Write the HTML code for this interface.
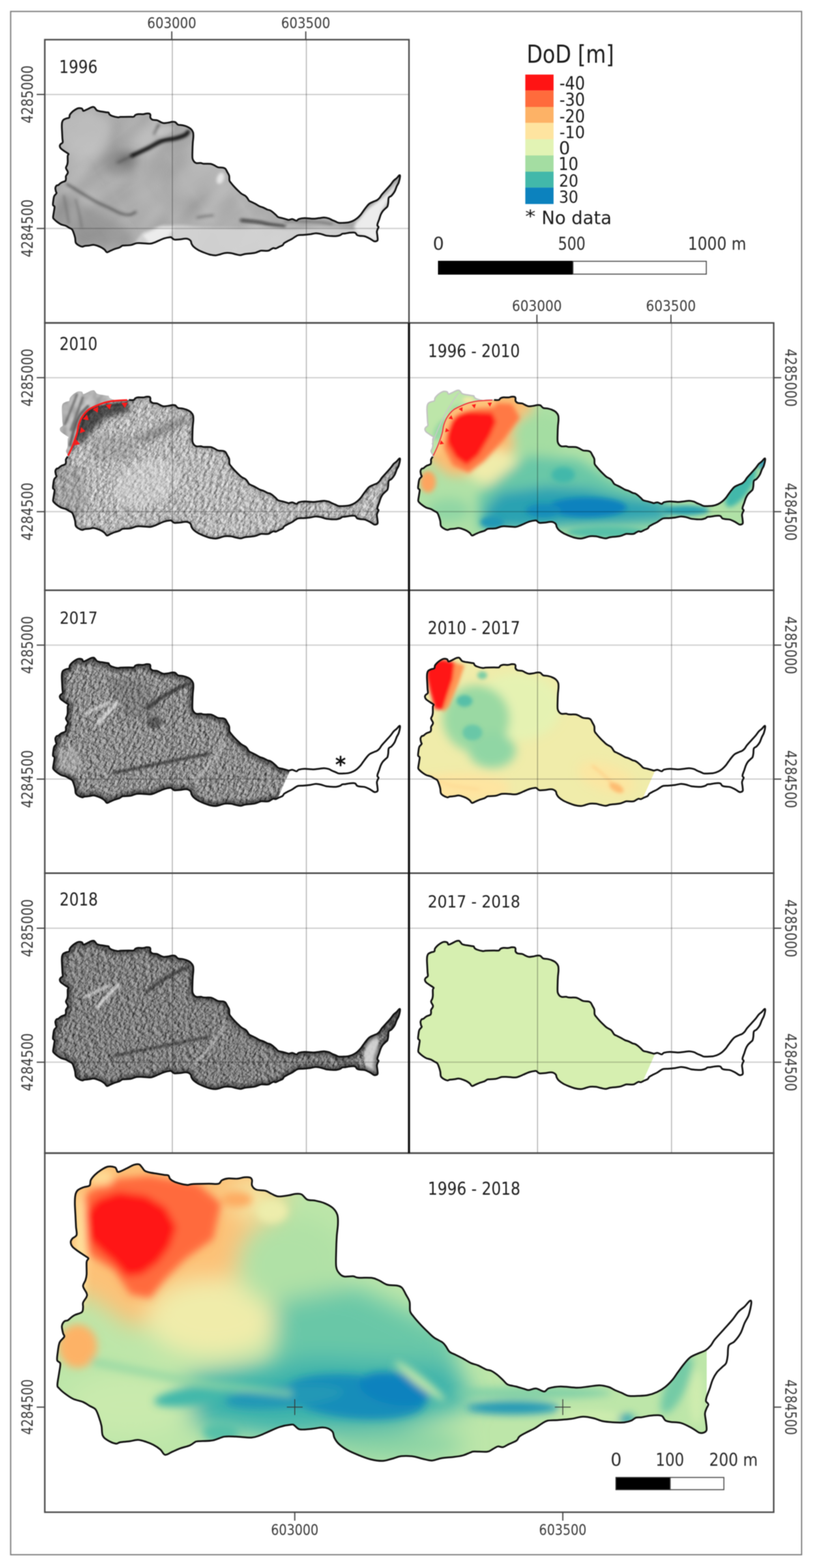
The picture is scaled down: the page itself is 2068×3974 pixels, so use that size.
<!DOCTYPE html><html><head><meta charset="utf-8"><style>html,body{margin:0;padding:0;background:#fff;width:2068px;height:3974px;overflow:hidden}svg{display:block;filter:blur(1px)}</style></head><body><svg width="2068" height="3974" viewBox="0 0 2068 3974"><defs><path id="cp" d="M191.1,3079.0 C190.6,3069.1 189.7,3057.7 189.7,3049.3 C189.7,3040.9 189.9,3033.9 191.1,3028.4 C192.3,3022.9 193.6,3019.7 197.1,3016.5 C200.6,3013.3 207.0,3011.0 212.0,3009.0 C217.0,3007.0 224.0,3007.6 227.0,3004.6 C230.0,3001.6 227.8,2995.5 230.0,2991.0 C232.2,2986.5 236.2,2981.9 240.4,2977.7 C244.6,2973.5 249.8,2969.3 255.3,2965.8 C260.8,2962.3 267.2,2958.1 273.2,2956.8 C279.1,2955.6 287.3,2957.1 291.0,2958.3 C294.7,2959.6 294.0,2962.3 295.5,2964.3 C297.0,2966.3 295.8,2970.8 300.0,2970.3 C304.2,2969.8 314.4,2964.3 320.9,2961.3 C327.4,2958.3 333.6,2954.1 338.8,2952.4 C344.0,2950.7 348.7,2949.9 352.2,2950.9 C355.7,2951.9 357.2,2955.6 359.7,2958.3 C362.2,2961.0 363.6,2965.1 367.1,2967.3 C370.6,2969.6 375.4,2970.6 380.6,2971.8 C385.8,2973.0 392.5,2973.7 398.5,2974.7 C404.5,2975.7 411.7,2976.9 416.4,2977.7 C421.1,2978.4 424.3,2977.4 426.8,2979.2 C429.3,2980.9 428.6,2985.5 431.3,2988.2 C434.0,2990.9 436.2,2993.1 443.2,2995.6 C450.1,2998.1 465.5,3002.1 473.0,3003.0 C480.5,3003.9 478.5,3001.5 488.0,3001.0 C497.5,3000.5 518.8,3000.2 529.8,3000.1 C540.8,2999.9 548.2,3001.6 553.7,3000.1 C559.2,2998.6 558.6,2993.3 562.6,2991.1 C566.6,2988.9 571.1,2987.3 577.6,2986.7 C584.1,2986.1 594.5,2987.8 601.4,2987.3 C608.3,2986.8 613.8,2984.1 619.3,2983.7 C624.8,2983.2 631.0,2983.4 634.2,2984.6 C637.4,2985.8 638.0,2987.8 638.7,2991.1 C639.5,2994.4 637.0,3000.6 638.7,3004.6 C640.4,3008.6 643.4,3012.8 649.1,3015.0 C654.8,3017.2 666.5,3016.2 673.0,3018.0 C679.5,3019.8 682.4,3023.1 687.9,3025.5 C693.4,3027.9 698.3,3031.7 705.8,3032.3 C713.3,3032.9 725.7,3030.4 732.7,3029.3 C739.7,3028.2 742.4,3026.4 747.6,3026.0 C752.8,3025.6 758.8,3024.6 764.0,3027.0 C769.2,3029.4 773.2,3037.8 778.9,3040.4 C784.6,3043.0 791.1,3041.3 798.3,3042.8 C805.5,3044.3 814.8,3046.2 822.2,3049.3 C829.7,3052.4 837.5,3056.2 843.0,3061.2 C848.5,3066.2 852.8,3072.1 855.0,3079.1 C857.2,3086.1 856.6,3094.1 856.4,3103.0 C856.1,3111.9 854.2,3121.9 853.5,3132.8 C852.8,3143.7 852.2,3155.7 852.0,3168.6 C851.8,3181.5 850.6,3200.6 852.0,3210.4 C853.4,3220.2 857.0,3223.6 860.4,3227.7 C863.8,3231.8 866.7,3234.0 872.4,3235.2 C878.1,3236.3 888.7,3234.1 894.7,3234.6 C900.7,3235.1 900.2,3237.5 908.2,3238.2 C916.2,3238.9 933.8,3237.7 942.5,3238.8 C951.2,3239.9 953.9,3242.1 960.4,3245.0 C966.9,3247.9 973.8,3253.8 981.2,3256.0 C988.6,3258.2 998.8,3256.8 1005.0,3258.0 C1011.2,3259.2 1014.5,3259.6 1018.5,3263.5 C1022.5,3267.4 1025.8,3275.4 1029.0,3281.4 C1032.2,3287.4 1036.3,3292.3 1038.0,3299.3 C1039.7,3306.3 1037.9,3317.2 1039.4,3323.2 C1040.9,3329.2 1042.7,3329.6 1046.9,3335.1 C1051.1,3340.6 1058.3,3349.0 1064.8,3356.0 C1071.2,3363.0 1079.6,3371.2 1085.6,3376.9 C1091.6,3382.6 1094.6,3386.1 1100.6,3390.3 C1106.6,3394.5 1116.4,3398.5 1121.4,3402.2 C1126.4,3405.9 1127.4,3408.7 1130.4,3412.7 C1133.4,3416.7 1135.3,3422.5 1139.3,3426.0 C1143.3,3429.5 1148.7,3430.8 1154.2,3433.5 C1159.7,3436.2 1165.7,3439.0 1172.2,3442.5 C1178.7,3446.0 1186.5,3451.4 1193.0,3454.4 C1199.5,3457.4 1204.5,3457.7 1211.0,3460.4 C1217.5,3463.1 1226.1,3468.5 1231.8,3470.8 C1237.5,3473.1 1240.2,3472.1 1244.9,3474.3 C1249.6,3476.5 1254.8,3480.2 1259.8,3484.1 C1264.8,3488.0 1270.2,3493.5 1274.7,3497.6 C1279.2,3501.7 1281.2,3506.2 1286.7,3508.9 C1292.2,3511.6 1300.6,3512.2 1307.6,3514.0 C1314.5,3515.8 1322.9,3518.5 1328.4,3520.0 C1333.9,3521.5 1335.4,3523.2 1340.4,3523.0 C1345.4,3522.8 1351.8,3518.4 1358.3,3519.0 C1364.8,3519.6 1373.6,3526.9 1379.1,3526.8 C1384.5,3526.7 1384.0,3520.5 1391.0,3518.4 C1398.0,3516.3 1409.0,3514.2 1420.9,3514.0 C1432.9,3513.8 1450.8,3517.0 1462.7,3517.0 C1474.6,3517.0 1483.1,3515.0 1492.5,3514.0 C1501.9,3513.0 1510.8,3510.8 1519.3,3511.0 C1527.8,3511.2 1536.7,3513.5 1543.2,3515.5 C1549.7,3517.5 1552.6,3520.5 1558.1,3523.0 C1563.6,3525.5 1570.0,3527.9 1576.0,3530.4 C1582.0,3532.9 1586.9,3536.6 1593.9,3537.8 C1600.9,3539.0 1609.8,3538.1 1617.8,3537.8 C1625.8,3537.5 1633.9,3537.4 1641.8,3535.8 C1649.7,3534.2 1657.9,3531.5 1665.3,3528.0 C1672.7,3524.5 1679.6,3520.1 1686.1,3514.9 C1692.6,3509.7 1699.2,3502.8 1704.4,3496.7 C1709.6,3490.6 1712.7,3484.9 1717.5,3478.4 C1722.3,3471.9 1727.9,3463.8 1733.1,3457.5 C1738.3,3451.2 1742.7,3445.1 1748.8,3440.5 C1754.9,3435.9 1763.2,3433.1 1769.7,3430.1 C1776.2,3427.1 1782.8,3425.6 1788.0,3422.3 C1793.2,3419.0 1797.1,3415.1 1801.0,3410.5 C1804.9,3405.9 1805.8,3401.9 1811.4,3394.9 C1817.1,3387.9 1827.5,3377.0 1834.9,3368.7 C1842.3,3360.4 1849.7,3352.7 1855.8,3345.3 C1861.9,3337.9 1866.3,3330.1 1871.5,3324.4 C1876.7,3318.7 1882.3,3315.9 1887.1,3311.3 C1891.9,3306.7 1897.4,3298.5 1900.2,3297.0 C1903.0,3295.5 1904.5,3296.3 1904.1,3302.2 C1903.7,3308.1 1900.4,3323.7 1897.6,3332.2 C1894.8,3340.7 1890.6,3345.3 1887.1,3353.1 C1883.6,3360.9 1881.0,3371.4 1876.7,3379.2 C1872.4,3387.0 1866.0,3394.9 1861.0,3400.1 C1856.0,3405.3 1849.5,3404.4 1846.7,3410.5 C1843.9,3416.6 1845.2,3429.2 1844.1,3436.6 C1843.0,3444.0 1842.5,3450.1 1840.1,3454.9 C1837.7,3459.7 1833.6,3461.4 1829.7,3465.3 C1825.8,3469.2 1820.5,3473.2 1816.6,3478.4 C1812.7,3483.6 1809.2,3489.8 1806.2,3496.7 C1803.2,3503.6 1801.0,3512.7 1798.4,3520.1 C1795.8,3527.5 1792.1,3535.8 1790.6,3541.0 C1789.1,3546.2 1788.4,3548.4 1789.2,3551.5 C1790.0,3554.6 1795.1,3556.3 1795.3,3559.3 C1795.5,3562.3 1792.0,3565.8 1790.6,3569.7 C1789.1,3573.6 1786.8,3577.1 1786.6,3582.8 C1786.4,3588.5 1788.5,3596.7 1789.2,3603.7 C1789.9,3610.7 1791.7,3620.0 1790.6,3624.6 C1789.5,3629.2 1785.8,3630.0 1782.7,3631.1 C1779.7,3632.2 1775.8,3632.2 1772.3,3631.1 C1768.8,3630.0 1765.7,3627.0 1761.8,3624.6 C1757.9,3622.2 1754.9,3619.8 1748.8,3616.7 C1742.7,3613.6 1733.6,3608.5 1725.3,3606.3 C1717.0,3604.1 1705.7,3604.8 1699.2,3603.7 C1692.7,3602.6 1689.6,3602.2 1686.1,3599.8 C1682.6,3597.4 1681.3,3591.5 1678.3,3589.3 C1675.3,3587.1 1673.1,3586.9 1667.9,3586.7 C1662.7,3586.5 1654.0,3587.1 1647.0,3588.0 C1640.0,3588.9 1632.0,3591.1 1626.1,3591.9 C1620.2,3592.7 1616.2,3591.6 1611.8,3593.0 C1607.4,3594.4 1604.9,3598.5 1599.9,3600.5 C1594.9,3602.5 1589.0,3604.2 1582.0,3605.0 C1575.0,3605.8 1567.0,3605.5 1558.1,3605.0 C1549.1,3604.5 1537.2,3603.8 1528.3,3602.0 C1519.3,3600.2 1512.9,3596.4 1504.4,3594.5 C1496.0,3592.6 1487.0,3590.3 1477.6,3590.6 C1468.1,3590.8 1458.2,3594.6 1447.7,3596.0 C1437.2,3597.4 1424.8,3598.2 1414.9,3599.0 C1405.0,3599.8 1395.0,3599.0 1388.1,3600.5 C1381.1,3602.0 1378.7,3604.8 1373.2,3608.0 C1367.7,3611.2 1361.8,3616.2 1355.3,3619.9 C1348.8,3623.6 1340.9,3626.8 1334.4,3630.3 C1327.9,3633.8 1320.7,3637.2 1316.5,3640.7 C1312.3,3644.2 1313.5,3648.0 1309.0,3651.2 C1304.5,3654.4 1295.4,3657.4 1289.7,3660.1 C1284.0,3662.8 1279.4,3666.6 1274.7,3667.6 C1270.0,3668.6 1265.9,3665.2 1261.8,3665.9 C1257.7,3666.6 1254.4,3669.7 1249.9,3671.9 C1245.4,3674.1 1243.0,3678.2 1235.0,3679.3 C1227.0,3680.4 1209.1,3678.4 1202.1,3678.7 C1195.1,3678.9 1198.2,3679.1 1193.2,3680.8 C1188.2,3682.5 1179.8,3686.9 1172.3,3688.9 C1164.8,3690.9 1157.5,3691.6 1148.5,3692.7 C1139.5,3693.8 1127.5,3694.2 1118.6,3695.7 C1109.6,3697.2 1102.8,3701.4 1094.8,3701.7 C1086.8,3701.9 1078.9,3698.9 1070.9,3697.2 C1062.9,3695.4 1056.0,3692.3 1047.0,3691.2 C1038.0,3690.1 1026.2,3689.6 1017.2,3690.6 C1008.2,3691.6 1001.2,3695.2 993.3,3697.2 C985.3,3699.2 978.4,3702.3 969.5,3702.6 C960.6,3702.8 949.7,3701.1 939.7,3698.7 C929.8,3696.3 919.8,3692.3 909.8,3688.3 C899.8,3684.3 888.6,3679.7 880.0,3674.8 C871.4,3669.9 863.4,3664.1 858.0,3659.0 C852.6,3653.9 850.0,3649.1 847.5,3644.1 C845.0,3639.1 845.7,3633.1 843.0,3629.1 C840.3,3625.1 835.6,3622.1 831.1,3620.2 C826.6,3618.3 823.7,3617.6 816.2,3617.8 C808.8,3618.1 795.9,3620.9 786.4,3621.7 C776.9,3622.5 766.2,3624.1 759.5,3622.6 C752.8,3621.1 749.6,3614.7 746.1,3612.7 C742.6,3610.7 744.8,3609.9 738.6,3610.6 C732.4,3611.2 718.7,3613.5 708.8,3616.6 C698.9,3619.7 687.5,3625.5 679.0,3629.1 C670.5,3632.7 665.1,3635.7 658.1,3638.1 C651.1,3640.5 647.2,3643.0 637.2,3643.5 C627.2,3644.0 609.8,3641.5 598.4,3641.1 C587.0,3640.7 578.5,3639.5 568.6,3641.1 C558.7,3642.7 550.2,3648.6 538.8,3650.6 C527.4,3652.6 507.6,3652.1 500.0,3653.0 C492.4,3653.9 496.1,3654.1 492.9,3655.8 C489.7,3657.5 486.9,3660.8 480.9,3663.3 C474.9,3665.8 464.6,3668.0 457.1,3670.7 C449.7,3673.4 442.7,3677.0 436.2,3679.7 C429.7,3682.4 423.3,3688.1 418.3,3687.1 C413.3,3686.1 411.4,3677.9 406.4,3673.7 C401.4,3669.5 394.5,3665.0 388.5,3661.8 C382.5,3658.6 377.1,3656.4 370.6,3654.3 C364.1,3652.2 356.7,3649.6 349.7,3649.3 C342.7,3649.1 336.3,3651.8 328.8,3652.8 C321.3,3653.8 310.9,3654.2 304.9,3655.2 C298.9,3656.2 298.5,3659.7 293.0,3658.8 C287.5,3657.9 277.6,3653.4 272.1,3649.9 C266.6,3646.4 262.7,3643.9 260.2,3637.9 C257.7,3631.9 258.7,3621.4 257.2,3614.0 C255.7,3606.6 253.7,3600.1 251.2,3593.2 C248.7,3586.2 246.3,3577.3 242.3,3572.3 C238.3,3567.3 232.9,3566.5 227.4,3563.3 C221.9,3560.1 216.5,3555.9 209.5,3552.9 C202.5,3549.9 193.1,3549.0 185.6,3545.5 C178.1,3542.0 170.7,3536.5 164.7,3532.0 C158.7,3527.5 153.0,3522.3 149.8,3518.6 C146.6,3514.9 145.4,3516.2 145.4,3509.7 C145.4,3503.2 148.6,3488.8 149.8,3479.8 C151.0,3470.9 153.6,3461.4 152.8,3456.0 C152.0,3450.6 146.0,3452.5 144.9,3447.6 C143.8,3442.7 145.4,3434.2 146.4,3426.7 C147.4,3419.2 148.2,3409.3 150.9,3402.8 C153.6,3396.3 161.3,3391.9 162.8,3387.9 C164.3,3383.9 160.8,3383.5 159.8,3379.0 C158.8,3374.5 156.3,3366.1 156.8,3361.1 C157.3,3356.1 160.3,3351.6 162.8,3349.1 C165.3,3346.6 168.8,3347.9 171.8,3346.2 C174.8,3344.5 177.7,3340.9 180.7,3338.7 C183.7,3336.4 185.2,3334.9 189.7,3332.7 C194.2,3330.5 204.1,3328.5 207.6,3325.3 C211.1,3322.1 210.0,3317.3 210.5,3313.3 C211.0,3309.3 209.0,3305.9 210.5,3301.4 C212.0,3296.9 218.0,3290.5 219.5,3286.5 C221.0,3282.5 221.0,3282.1 219.5,3277.6 C218.0,3273.1 211.0,3265.2 210.5,3259.7 C210.0,3254.2 215.0,3249.7 216.5,3244.7 C218.0,3239.7 219.0,3237.5 219.5,3229.8 C220.0,3222.1 218.8,3205.2 219.5,3198.5 C220.2,3191.8 224.5,3192.0 224.0,3189.5 C223.5,3187.0 220.7,3186.5 216.5,3183.5 C212.3,3180.5 204.1,3175.6 198.6,3171.6 C193.1,3167.6 186.9,3163.7 183.7,3159.7 C180.5,3155.7 179.2,3151.2 179.2,3147.7 C179.2,3144.2 181.2,3141.8 183.7,3138.8 C186.2,3135.8 192.6,3134.9 194.1,3129.9 C195.6,3124.9 193.1,3117.5 192.6,3109.0 C192.1,3100.5 191.6,3088.9 191.1,3079.0Z"/><path id="cpm" d="M529.8,3000.1 C535.2,3000.0 548.2,3001.6 553.7,3000.1 C559.2,2998.6 558.6,2993.3 562.6,2991.1 C566.6,2988.9 571.1,2987.3 577.6,2986.7 C584.1,2986.1 594.5,2987.8 601.4,2987.3 C608.3,2986.8 613.8,2984.1 619.3,2983.7 C624.8,2983.2 631.0,2983.4 634.2,2984.6 C637.4,2985.8 638.0,2987.8 638.7,2991.1 C639.5,2994.4 637.0,3000.6 638.7,3004.6 C640.4,3008.6 643.4,3012.8 649.1,3015.0 C654.8,3017.2 666.5,3016.2 673.0,3018.0 C679.5,3019.8 682.4,3023.1 687.9,3025.5 C693.4,3027.9 698.3,3031.7 705.8,3032.3 C713.3,3032.9 725.7,3030.4 732.7,3029.3 C739.7,3028.2 742.4,3026.4 747.6,3026.0 C752.8,3025.6 758.8,3024.6 764.0,3027.0 C769.2,3029.4 773.2,3037.8 778.9,3040.4 C784.6,3043.0 791.1,3041.3 798.3,3042.8 C805.5,3044.3 814.8,3046.2 822.2,3049.3 C829.7,3052.4 837.5,3056.2 843.0,3061.2 C848.5,3066.2 852.8,3072.1 855.0,3079.1 C857.2,3086.1 856.6,3094.1 856.4,3103.0 C856.1,3111.9 854.2,3121.9 853.5,3132.8 C852.8,3143.7 852.2,3155.7 852.0,3168.6 C851.8,3181.5 850.6,3200.6 852.0,3210.4 C853.4,3220.2 857.0,3223.6 860.4,3227.7 C863.8,3231.8 866.7,3234.0 872.4,3235.2 C878.1,3236.3 888.7,3234.1 894.7,3234.6 C900.7,3235.1 900.2,3237.5 908.2,3238.2 C916.2,3238.9 933.8,3237.7 942.5,3238.8 C951.2,3239.9 953.9,3242.1 960.4,3245.0 C966.9,3247.9 973.8,3253.8 981.2,3256.0 C988.6,3258.2 998.8,3256.8 1005.0,3258.0 C1011.2,3259.2 1014.5,3259.6 1018.5,3263.5 C1022.5,3267.4 1025.8,3275.4 1029.0,3281.4 C1032.2,3287.4 1036.3,3292.3 1038.0,3299.3 C1039.7,3306.3 1037.9,3317.2 1039.4,3323.2 C1040.9,3329.2 1042.7,3329.6 1046.9,3335.1 C1051.1,3340.6 1058.3,3349.0 1064.8,3356.0 C1071.2,3363.0 1079.6,3371.2 1085.6,3376.9 C1091.6,3382.6 1094.6,3386.1 1100.6,3390.3 C1106.6,3394.5 1116.4,3398.5 1121.4,3402.2 C1126.4,3405.9 1127.4,3408.7 1130.4,3412.7 C1133.4,3416.7 1135.3,3422.5 1139.3,3426.0 C1143.3,3429.5 1148.7,3430.8 1154.2,3433.5 C1159.7,3436.2 1165.7,3439.0 1172.2,3442.5 C1178.7,3446.0 1186.5,3451.4 1193.0,3454.4 C1199.5,3457.4 1204.5,3457.7 1211.0,3460.4 C1217.5,3463.1 1226.1,3468.5 1231.8,3470.8 C1237.5,3473.1 1240.2,3472.1 1244.9,3474.3 C1249.6,3476.5 1254.8,3480.2 1259.8,3484.1 C1264.8,3488.0 1270.2,3493.5 1274.7,3497.6 C1279.2,3501.7 1281.2,3506.2 1286.7,3508.9 C1292.2,3511.6 1300.6,3512.2 1307.6,3514.0 C1314.5,3515.8 1322.9,3518.5 1328.4,3520.0 C1333.9,3521.5 1335.4,3523.2 1340.4,3523.0 C1345.4,3522.8 1351.8,3518.4 1358.3,3519.0 C1364.8,3519.6 1373.6,3526.9 1379.1,3526.8 C1384.5,3526.7 1384.0,3520.5 1391.0,3518.4 C1398.0,3516.3 1409.0,3514.2 1420.9,3514.0 C1432.9,3513.8 1450.8,3517.0 1462.7,3517.0 C1474.6,3517.0 1483.1,3515.0 1492.5,3514.0 C1501.9,3513.0 1510.8,3510.8 1519.3,3511.0 C1527.8,3511.2 1536.7,3513.5 1543.2,3515.5 C1549.7,3517.5 1552.6,3520.5 1558.1,3523.0 C1563.6,3525.5 1570.0,3527.9 1576.0,3530.4 C1582.0,3532.9 1586.9,3536.6 1593.9,3537.8 C1600.9,3539.0 1609.8,3538.1 1617.8,3537.8 C1625.8,3537.5 1633.9,3537.4 1641.8,3535.8 C1649.7,3534.2 1657.9,3531.5 1665.3,3528.0 C1672.7,3524.5 1679.6,3520.1 1686.1,3514.9 C1692.6,3509.7 1699.2,3502.8 1704.4,3496.7 C1709.6,3490.6 1712.7,3484.9 1717.5,3478.4 C1722.3,3471.9 1727.9,3463.8 1733.1,3457.5 C1738.3,3451.2 1742.7,3445.1 1748.8,3440.5 C1754.9,3435.9 1763.2,3433.1 1769.7,3430.1 C1776.2,3427.1 1782.8,3425.6 1788.0,3422.3 C1793.2,3419.0 1797.1,3415.1 1801.0,3410.5 C1804.9,3405.9 1805.8,3401.9 1811.4,3394.9 C1817.1,3387.9 1827.5,3377.0 1834.9,3368.7 C1842.3,3360.4 1849.7,3352.7 1855.8,3345.3 C1861.9,3337.9 1866.3,3330.1 1871.5,3324.4 C1876.7,3318.7 1882.3,3315.9 1887.1,3311.3 C1891.9,3306.7 1897.4,3298.5 1900.2,3297.0 C1903.0,3295.5 1904.5,3296.3 1904.1,3302.2 C1903.7,3308.1 1900.4,3323.7 1897.6,3332.2 C1894.8,3340.7 1890.6,3345.3 1887.1,3353.1 C1883.6,3360.9 1881.0,3371.4 1876.7,3379.2 C1872.4,3387.0 1866.0,3394.9 1861.0,3400.1 C1856.0,3405.3 1849.5,3404.4 1846.7,3410.5 C1843.9,3416.6 1845.2,3429.2 1844.1,3436.6 C1843.0,3444.0 1842.5,3450.1 1840.1,3454.9 C1837.7,3459.7 1833.6,3461.4 1829.7,3465.3 C1825.8,3469.2 1820.5,3473.2 1816.6,3478.4 C1812.7,3483.6 1809.2,3489.8 1806.2,3496.7 C1803.2,3503.6 1801.0,3512.7 1798.4,3520.1 C1795.8,3527.5 1792.1,3535.8 1790.6,3541.0 C1789.1,3546.2 1788.4,3548.4 1789.2,3551.5 C1790.0,3554.6 1795.1,3556.3 1795.3,3559.3 C1795.5,3562.3 1792.0,3565.8 1790.6,3569.7 C1789.1,3573.6 1786.8,3577.1 1786.6,3582.8 C1786.4,3588.5 1788.5,3596.7 1789.2,3603.7 C1789.9,3610.7 1791.7,3620.0 1790.6,3624.6 C1789.5,3629.2 1785.8,3630.0 1782.7,3631.1 C1779.7,3632.2 1775.8,3632.2 1772.3,3631.1 C1768.8,3630.0 1765.7,3627.0 1761.8,3624.6 C1757.9,3622.2 1754.9,3619.8 1748.8,3616.7 C1742.7,3613.6 1733.6,3608.5 1725.3,3606.3 C1717.0,3604.1 1705.7,3604.8 1699.2,3603.7 C1692.7,3602.6 1689.6,3602.2 1686.1,3599.8 C1682.6,3597.4 1681.3,3591.5 1678.3,3589.3 C1675.3,3587.1 1673.1,3586.9 1667.9,3586.7 C1662.7,3586.5 1654.0,3587.1 1647.0,3588.0 C1640.0,3588.9 1632.0,3591.1 1626.1,3591.9 C1620.2,3592.7 1616.2,3591.6 1611.8,3593.0 C1607.4,3594.4 1604.9,3598.5 1599.9,3600.5 C1594.9,3602.5 1589.0,3604.2 1582.0,3605.0 C1575.0,3605.8 1567.0,3605.5 1558.1,3605.0 C1549.1,3604.5 1537.2,3603.8 1528.3,3602.0 C1519.3,3600.2 1512.9,3596.4 1504.4,3594.5 C1496.0,3592.6 1487.0,3590.3 1477.6,3590.6 C1468.1,3590.8 1458.2,3594.6 1447.7,3596.0 C1437.2,3597.4 1424.8,3598.2 1414.9,3599.0 C1405.0,3599.8 1395.0,3599.0 1388.1,3600.5 C1381.1,3602.0 1378.7,3604.8 1373.2,3608.0 C1367.7,3611.2 1361.8,3616.2 1355.3,3619.9 C1348.8,3623.6 1340.9,3626.8 1334.4,3630.3 C1327.9,3633.8 1320.7,3637.2 1316.5,3640.7 C1312.3,3644.2 1313.5,3648.0 1309.0,3651.2 C1304.5,3654.4 1295.4,3657.4 1289.7,3660.1 C1284.0,3662.8 1279.4,3666.6 1274.7,3667.6 C1270.0,3668.6 1265.9,3665.2 1261.8,3665.9 C1257.7,3666.6 1254.4,3669.7 1249.9,3671.9 C1245.4,3674.1 1243.0,3678.2 1235.0,3679.3 C1227.0,3680.4 1209.1,3678.4 1202.1,3678.7 C1195.1,3678.9 1198.2,3679.1 1193.2,3680.8 C1188.2,3682.5 1179.8,3686.9 1172.3,3688.9 C1164.8,3690.9 1157.5,3691.6 1148.5,3692.7 C1139.5,3693.8 1127.5,3694.2 1118.6,3695.7 C1109.6,3697.2 1102.8,3701.4 1094.8,3701.7 C1086.8,3701.9 1078.9,3698.9 1070.9,3697.2 C1062.9,3695.4 1056.0,3692.3 1047.0,3691.2 C1038.0,3690.1 1026.2,3689.6 1017.2,3690.6 C1008.2,3691.6 1001.2,3695.2 993.3,3697.2 C985.3,3699.2 978.4,3702.3 969.5,3702.6 C960.6,3702.8 949.7,3701.1 939.7,3698.7 C929.8,3696.3 919.8,3692.3 909.8,3688.3 C899.8,3684.3 888.6,3679.7 880.0,3674.8 C871.4,3669.9 863.4,3664.1 858.0,3659.0 C852.6,3653.9 850.0,3649.1 847.5,3644.1 C845.0,3639.1 845.7,3633.1 843.0,3629.1 C840.3,3625.1 835.6,3622.1 831.1,3620.2 C826.6,3618.3 823.7,3617.6 816.2,3617.8 C808.8,3618.1 795.9,3620.9 786.4,3621.7 C776.9,3622.5 766.2,3624.1 759.5,3622.6 C752.8,3621.1 749.6,3614.7 746.1,3612.7 C742.6,3610.7 744.8,3609.9 738.6,3610.6 C732.4,3611.2 718.7,3613.5 708.8,3616.6 C698.9,3619.7 687.5,3625.5 679.0,3629.1 C670.5,3632.7 665.1,3635.7 658.1,3638.1 C651.1,3640.5 647.2,3643.0 637.2,3643.5 C627.2,3644.0 609.8,3641.5 598.4,3641.1 C587.0,3640.7 578.5,3639.5 568.6,3641.1 C558.7,3642.7 550.2,3648.6 538.8,3650.6 C527.4,3652.6 507.6,3652.1 500.0,3653.0 C492.4,3653.9 496.1,3654.1 492.9,3655.8 C489.7,3657.5 486.9,3660.8 480.9,3663.3 C474.9,3665.8 464.6,3668.0 457.1,3670.7 C449.7,3673.4 442.7,3677.0 436.2,3679.7 C429.7,3682.4 423.3,3688.1 418.3,3687.1 C413.3,3686.1 411.4,3677.9 406.4,3673.7 C401.4,3669.5 394.5,3665.0 388.5,3661.8 C382.5,3658.6 377.1,3656.4 370.6,3654.3 C364.1,3652.2 356.7,3649.6 349.7,3649.3 C342.7,3649.1 336.3,3651.8 328.8,3652.8 C321.3,3653.8 310.9,3654.2 304.9,3655.2 C298.9,3656.2 298.5,3659.7 293.0,3658.8 C287.5,3657.9 277.6,3653.4 272.1,3649.9 C266.6,3646.4 262.7,3643.9 260.2,3637.9 C257.7,3631.9 258.7,3621.4 257.2,3614.0 C255.7,3606.6 253.7,3600.1 251.2,3593.2 C248.7,3586.2 246.3,3577.3 242.3,3572.3 C238.3,3567.3 232.9,3566.5 227.4,3563.3 C221.9,3560.1 216.5,3555.9 209.5,3552.9 C202.5,3549.9 193.1,3549.0 185.6,3545.5 C178.1,3542.0 170.7,3536.5 164.7,3532.0 C158.7,3527.5 153.0,3522.3 149.8,3518.6 C146.6,3514.9 145.4,3516.2 145.4,3509.7 C145.4,3503.2 148.6,3488.8 149.8,3479.8 C151.0,3470.9 153.6,3461.4 152.8,3456.0 C152.0,3450.6 146.0,3452.5 144.9,3447.6 C143.8,3442.7 145.4,3434.2 146.4,3426.7 C147.4,3419.2 148.2,3409.3 150.9,3402.8 C153.6,3396.3 161.3,3391.9 162.8,3387.9 C164.3,3383.9 160.8,3383.5 159.8,3379.0 C158.8,3374.5 156.3,3366.1 156.8,3361.1 C157.3,3356.1 160.3,3351.6 162.8,3349.1 C165.3,3346.6 168.8,3347.9 171.8,3346.2 C174.8,3344.5 177.7,3340.9 180.7,3338.7 C183.7,3336.4 185.2,3334.9 189.7,3332.7 C194.2,3330.5 204.1,3328.5 207.6,3325.3 C211.1,3322.1 210.0,3317.3 210.5,3313.3 C211.0,3309.3 209.0,3305.9 210.5,3301.4 C212.0,3296.9 217.7,3289.7 219.5,3286.5 C221.3,3283.3 217.3,3291.4 221.4,3282.5 C225.5,3273.6 236.5,3251.9 244.0,3233.3 C251.5,3214.7 261.0,3188.6 266.2,3170.7 C271.4,3152.8 270.7,3140.1 275.2,3125.9 C279.7,3111.7 284.8,3098.4 293.0,3085.7 C301.2,3073.0 311.7,3059.6 324.4,3049.9 C337.1,3040.2 355.6,3033.5 369.0,3027.5 C382.4,3021.5 391.4,3017.8 404.8,3014.1 C418.2,3010.4 430.2,3007.3 449.6,3005.1 C469.0,3002.9 507.8,3001.5 521.2,3000.7 C534.6,2999.9 524.4,3000.2 529.8,3000.1Z"/><path id="cpnw" d="M219.5,3277.6 C217.7,3273.8 211.0,3265.2 210.5,3259.7 C210.0,3254.2 215.0,3249.7 216.5,3244.7 C218.0,3239.7 219.0,3237.5 219.5,3229.8 C220.0,3222.1 218.8,3205.2 219.5,3198.5 C220.2,3191.8 224.5,3192.0 224.0,3189.5 C223.5,3187.0 220.7,3186.5 216.5,3183.5 C212.3,3180.5 204.1,3175.6 198.6,3171.6 C193.1,3167.6 186.9,3163.7 183.7,3159.7 C180.5,3155.7 179.2,3151.2 179.2,3147.7 C179.2,3144.2 181.2,3141.8 183.7,3138.8 C186.2,3135.8 192.6,3134.9 194.1,3129.9 C195.6,3124.9 193.1,3117.5 192.6,3109.0 C192.1,3100.5 191.6,3088.9 191.1,3079.0 C190.6,3069.1 189.7,3057.7 189.7,3049.3 C189.7,3040.9 189.9,3033.9 191.1,3028.4 C192.3,3022.9 193.6,3019.7 197.1,3016.5 C200.6,3013.3 207.0,3011.0 212.0,3009.0 C217.0,3007.0 224.0,3007.6 227.0,3004.6 C230.0,3001.6 227.8,2995.5 230.0,2991.0 C232.2,2986.5 236.2,2981.9 240.4,2977.7 C244.6,2973.5 249.8,2969.3 255.3,2965.8 C260.8,2962.3 267.2,2958.1 273.2,2956.8 C279.1,2955.6 287.3,2957.1 291.0,2958.3 C294.7,2959.6 294.0,2962.3 295.5,2964.3 C297.0,2966.3 295.8,2970.8 300.0,2970.3 C304.2,2969.8 314.4,2964.3 320.9,2961.3 C327.4,2958.3 333.6,2954.1 338.8,2952.4 C344.0,2950.7 348.7,2949.9 352.2,2950.9 C355.7,2951.9 357.2,2955.6 359.7,2958.3 C362.2,2961.0 363.6,2965.1 367.1,2967.3 C370.6,2969.6 375.4,2970.6 380.6,2971.8 C385.8,2973.0 392.5,2973.7 398.5,2974.7 C404.5,2975.7 411.7,2976.9 416.4,2977.7 C421.1,2978.4 424.3,2977.4 426.8,2979.2 C429.3,2980.9 428.6,2985.5 431.3,2988.2 C434.0,2990.9 436.2,2993.1 443.2,2995.6 C450.1,2998.1 465.5,3002.1 473.0,3003.0 C480.5,3003.9 480.0,3001.4 488.0,3001.0 C496.0,3000.6 527.6,3000.0 521.2,3000.7 C514.8,3001.4 469.0,3002.9 449.6,3005.1 C430.2,3007.3 418.2,3010.4 404.8,3014.1 C391.4,3017.8 382.4,3021.5 369.0,3027.5 C355.6,3033.5 337.1,3040.2 324.4,3049.9 C311.7,3059.6 301.2,3073.0 293.0,3085.7 C284.8,3098.4 279.7,3111.7 275.2,3125.9 C270.7,3140.1 271.4,3152.8 266.2,3170.7 C261.0,3188.6 251.5,3214.7 244.0,3233.3 C236.5,3251.9 225.5,3275.1 221.4,3282.5 C217.3,3289.9 221.3,3281.4 219.5,3277.6Z"/><path id="cpo" d="M529.8,3000.1 C533.8,3000.1 548.2,3001.6 553.7,3000.1 C559.2,2998.6 558.6,2993.3 562.6,2991.1 C566.6,2988.9 571.1,2987.3 577.6,2986.7 C584.1,2986.1 594.5,2987.8 601.4,2987.3 C608.3,2986.8 613.8,2984.1 619.3,2983.7 C624.8,2983.2 631.0,2983.4 634.2,2984.6 C637.4,2985.8 638.0,2987.8 638.7,2991.1 C639.5,2994.4 637.0,3000.6 638.7,3004.6 C640.4,3008.6 643.4,3012.8 649.1,3015.0 C654.8,3017.2 666.5,3016.2 673.0,3018.0 C679.5,3019.8 682.4,3023.1 687.9,3025.5 C693.4,3027.9 698.3,3031.7 705.8,3032.3 C713.3,3032.9 725.7,3030.4 732.7,3029.3 C739.7,3028.2 742.4,3026.4 747.6,3026.0 C752.8,3025.6 758.8,3024.6 764.0,3027.0 C769.2,3029.4 773.2,3037.8 778.9,3040.4 C784.6,3043.0 791.1,3041.3 798.3,3042.8 C805.5,3044.3 814.8,3046.2 822.2,3049.3 C829.7,3052.4 837.5,3056.2 843.0,3061.2 C848.5,3066.2 852.8,3072.1 855.0,3079.1 C857.2,3086.1 856.6,3094.1 856.4,3103.0 C856.1,3111.9 854.2,3121.9 853.5,3132.8 C852.8,3143.7 852.2,3155.7 852.0,3168.6 C851.8,3181.5 850.6,3200.6 852.0,3210.4 C853.4,3220.2 857.0,3223.6 860.4,3227.7 C863.8,3231.8 866.7,3234.0 872.4,3235.2 C878.1,3236.3 888.7,3234.1 894.7,3234.6 C900.7,3235.1 900.2,3237.5 908.2,3238.2 C916.2,3238.9 933.8,3237.7 942.5,3238.8 C951.2,3239.9 953.9,3242.1 960.4,3245.0 C966.9,3247.9 973.8,3253.8 981.2,3256.0 C988.6,3258.2 998.8,3256.8 1005.0,3258.0 C1011.2,3259.2 1014.5,3259.6 1018.5,3263.5 C1022.5,3267.4 1025.8,3275.4 1029.0,3281.4 C1032.2,3287.4 1036.3,3292.3 1038.0,3299.3 C1039.7,3306.3 1037.9,3317.2 1039.4,3323.2 C1040.9,3329.2 1042.7,3329.6 1046.9,3335.1 C1051.1,3340.6 1058.3,3349.0 1064.8,3356.0 C1071.2,3363.0 1079.6,3371.2 1085.6,3376.9 C1091.6,3382.6 1094.6,3386.1 1100.6,3390.3 C1106.6,3394.5 1116.4,3398.5 1121.4,3402.2 C1126.4,3405.9 1127.4,3408.7 1130.4,3412.7 C1133.4,3416.7 1135.3,3422.5 1139.3,3426.0 C1143.3,3429.5 1148.7,3430.8 1154.2,3433.5 C1159.7,3436.2 1165.7,3439.0 1172.2,3442.5 C1178.7,3446.0 1186.5,3451.4 1193.0,3454.4 C1199.5,3457.4 1204.5,3457.7 1211.0,3460.4 C1217.5,3463.1 1226.1,3468.5 1231.8,3470.8 C1237.5,3473.1 1240.2,3472.1 1244.9,3474.3 C1249.6,3476.5 1254.8,3480.2 1259.8,3484.1 C1264.8,3488.0 1270.2,3493.5 1274.7,3497.6 C1279.2,3501.7 1281.2,3506.2 1286.7,3508.9 C1292.2,3511.6 1300.6,3512.2 1307.6,3514.0 C1314.5,3515.8 1322.9,3518.5 1328.4,3520.0 C1333.9,3521.5 1335.4,3523.2 1340.4,3523.0 C1345.4,3522.8 1351.8,3518.4 1358.3,3519.0 C1364.8,3519.6 1373.6,3526.9 1379.1,3526.8 C1384.5,3526.7 1384.0,3520.5 1391.0,3518.4 C1398.0,3516.3 1409.0,3514.2 1420.9,3514.0 C1432.9,3513.8 1450.8,3517.0 1462.7,3517.0 C1474.6,3517.0 1483.1,3515.0 1492.5,3514.0 C1501.9,3513.0 1510.8,3510.8 1519.3,3511.0 C1527.8,3511.2 1536.7,3513.5 1543.2,3515.5 C1549.7,3517.5 1552.6,3520.5 1558.1,3523.0 C1563.6,3525.5 1570.0,3527.9 1576.0,3530.4 C1582.0,3532.9 1586.9,3536.6 1593.9,3537.8 C1600.9,3539.0 1609.8,3538.1 1617.8,3537.8 C1625.8,3537.5 1633.9,3537.4 1641.8,3535.8 C1649.7,3534.2 1657.9,3531.5 1665.3,3528.0 C1672.7,3524.5 1679.6,3520.1 1686.1,3514.9 C1692.6,3509.7 1699.2,3502.8 1704.4,3496.7 C1709.6,3490.6 1712.7,3484.9 1717.5,3478.4 C1722.3,3471.9 1727.9,3463.8 1733.1,3457.5 C1738.3,3451.2 1742.7,3445.1 1748.8,3440.5 C1754.9,3435.9 1763.2,3433.1 1769.7,3430.1 C1776.2,3427.1 1782.8,3425.6 1788.0,3422.3 C1793.2,3419.0 1797.1,3415.1 1801.0,3410.5 C1804.9,3405.9 1805.8,3401.9 1811.4,3394.9 C1817.1,3387.9 1827.5,3377.0 1834.9,3368.7 C1842.3,3360.4 1849.7,3352.7 1855.8,3345.3 C1861.9,3337.9 1866.3,3330.1 1871.5,3324.4 C1876.7,3318.7 1882.3,3315.9 1887.1,3311.3 C1891.9,3306.7 1897.4,3298.5 1900.2,3297.0 C1903.0,3295.5 1904.5,3296.3 1904.1,3302.2 C1903.7,3308.1 1900.4,3323.7 1897.6,3332.2 C1894.8,3340.7 1890.6,3345.3 1887.1,3353.1 C1883.6,3360.9 1881.0,3371.4 1876.7,3379.2 C1872.4,3387.0 1866.0,3394.9 1861.0,3400.1 C1856.0,3405.3 1849.5,3404.4 1846.7,3410.5 C1843.9,3416.6 1845.2,3429.2 1844.1,3436.6 C1843.0,3444.0 1842.5,3450.1 1840.1,3454.9 C1837.7,3459.7 1833.6,3461.4 1829.7,3465.3 C1825.8,3469.2 1820.5,3473.2 1816.6,3478.4 C1812.7,3483.6 1809.2,3489.8 1806.2,3496.7 C1803.2,3503.6 1801.0,3512.7 1798.4,3520.1 C1795.8,3527.5 1792.1,3535.8 1790.6,3541.0 C1789.1,3546.2 1788.4,3548.4 1789.2,3551.5 C1790.0,3554.6 1795.1,3556.3 1795.3,3559.3 C1795.5,3562.3 1792.0,3565.8 1790.6,3569.7 C1789.1,3573.6 1786.8,3577.1 1786.6,3582.8 C1786.4,3588.5 1788.5,3596.7 1789.2,3603.7 C1789.9,3610.7 1791.7,3620.0 1790.6,3624.6 C1789.5,3629.2 1785.8,3630.0 1782.7,3631.1 C1779.7,3632.2 1775.8,3632.2 1772.3,3631.1 C1768.8,3630.0 1765.7,3627.0 1761.8,3624.6 C1757.9,3622.2 1754.9,3619.8 1748.8,3616.7 C1742.7,3613.6 1733.6,3608.5 1725.3,3606.3 C1717.0,3604.1 1705.7,3604.8 1699.2,3603.7 C1692.7,3602.6 1689.6,3602.2 1686.1,3599.8 C1682.6,3597.4 1681.3,3591.5 1678.3,3589.3 C1675.3,3587.1 1673.1,3586.9 1667.9,3586.7 C1662.7,3586.5 1654.0,3587.1 1647.0,3588.0 C1640.0,3588.9 1632.0,3591.1 1626.1,3591.9 C1620.2,3592.7 1616.2,3591.6 1611.8,3593.0 C1607.4,3594.4 1604.9,3598.5 1599.9,3600.5 C1594.9,3602.5 1589.0,3604.2 1582.0,3605.0 C1575.0,3605.8 1567.0,3605.5 1558.1,3605.0 C1549.1,3604.5 1537.2,3603.8 1528.3,3602.0 C1519.3,3600.2 1512.9,3596.4 1504.4,3594.5 C1496.0,3592.6 1487.0,3590.3 1477.6,3590.6 C1468.1,3590.8 1458.2,3594.6 1447.7,3596.0 C1437.2,3597.4 1424.8,3598.2 1414.9,3599.0 C1405.0,3599.8 1395.0,3599.0 1388.1,3600.5 C1381.1,3602.0 1378.7,3604.8 1373.2,3608.0 C1367.7,3611.2 1361.8,3616.2 1355.3,3619.9 C1348.8,3623.6 1340.9,3626.8 1334.4,3630.3 C1327.9,3633.8 1320.7,3637.2 1316.5,3640.7 C1312.3,3644.2 1313.5,3648.0 1309.0,3651.2 C1304.5,3654.4 1295.4,3657.4 1289.7,3660.1 C1284.0,3662.8 1279.4,3666.6 1274.7,3667.6 C1270.0,3668.6 1265.9,3665.2 1261.8,3665.9 C1257.7,3666.6 1254.4,3669.7 1249.9,3671.9 C1245.4,3674.1 1243.0,3678.2 1235.0,3679.3 C1227.0,3680.4 1209.1,3678.4 1202.1,3678.7 C1195.1,3678.9 1198.2,3679.1 1193.2,3680.8 C1188.2,3682.5 1179.8,3686.9 1172.3,3688.9 C1164.8,3690.9 1157.5,3691.6 1148.5,3692.7 C1139.5,3693.8 1127.5,3694.2 1118.6,3695.7 C1109.6,3697.2 1102.8,3701.4 1094.8,3701.7 C1086.8,3701.9 1078.9,3698.9 1070.9,3697.2 C1062.9,3695.4 1056.0,3692.3 1047.0,3691.2 C1038.0,3690.1 1026.2,3689.6 1017.2,3690.6 C1008.2,3691.6 1001.2,3695.2 993.3,3697.2 C985.3,3699.2 978.4,3702.3 969.5,3702.6 C960.6,3702.8 949.7,3701.1 939.7,3698.7 C929.8,3696.3 919.8,3692.3 909.8,3688.3 C899.8,3684.3 888.6,3679.7 880.0,3674.8 C871.4,3669.9 863.4,3664.1 858.0,3659.0 C852.6,3653.9 850.0,3649.1 847.5,3644.1 C845.0,3639.1 845.7,3633.1 843.0,3629.1 C840.3,3625.1 835.6,3622.1 831.1,3620.2 C826.6,3618.3 823.7,3617.6 816.2,3617.8 C808.8,3618.1 795.9,3620.9 786.4,3621.7 C776.9,3622.5 766.2,3624.1 759.5,3622.6 C752.8,3621.1 749.6,3614.7 746.1,3612.7 C742.6,3610.7 744.8,3609.9 738.6,3610.6 C732.4,3611.2 718.7,3613.5 708.8,3616.6 C698.9,3619.7 687.5,3625.5 679.0,3629.1 C670.5,3632.7 665.1,3635.7 658.1,3638.1 C651.1,3640.5 647.2,3643.0 637.2,3643.5 C627.2,3644.0 609.8,3641.5 598.4,3641.1 C587.0,3640.7 578.5,3639.5 568.6,3641.1 C558.7,3642.7 550.2,3648.6 538.8,3650.6 C527.4,3652.6 507.6,3652.1 500.0,3653.0 C492.4,3653.9 496.1,3654.1 492.9,3655.8 C489.7,3657.5 486.9,3660.8 480.9,3663.3 C474.9,3665.8 464.6,3668.0 457.1,3670.7 C449.7,3673.4 442.7,3677.0 436.2,3679.7 C429.7,3682.4 423.3,3688.1 418.3,3687.1 C413.3,3686.1 411.4,3677.9 406.4,3673.7 C401.4,3669.5 394.5,3665.0 388.5,3661.8 C382.5,3658.6 377.1,3656.4 370.6,3654.3 C364.1,3652.2 356.7,3649.6 349.7,3649.3 C342.7,3649.1 336.3,3651.8 328.8,3652.8 C321.3,3653.8 310.9,3654.2 304.9,3655.2 C298.9,3656.2 298.5,3659.7 293.0,3658.8 C287.5,3657.9 277.6,3653.4 272.1,3649.9 C266.6,3646.4 262.7,3643.9 260.2,3637.9 C257.7,3631.9 258.7,3621.4 257.2,3614.0 C255.7,3606.6 253.7,3600.1 251.2,3593.2 C248.7,3586.2 246.3,3577.3 242.3,3572.3 C238.3,3567.3 232.9,3566.5 227.4,3563.3 C221.9,3560.1 216.5,3555.9 209.5,3552.9 C202.5,3549.9 193.1,3549.0 185.6,3545.5 C178.1,3542.0 170.7,3536.5 164.7,3532.0 C158.7,3527.5 153.0,3522.3 149.8,3518.6 C146.6,3514.9 145.4,3516.2 145.4,3509.7 C145.4,3503.2 148.6,3488.8 149.8,3479.8 C151.0,3470.9 153.6,3461.4 152.8,3456.0 C152.0,3450.6 146.0,3452.5 144.9,3447.6 C143.8,3442.7 145.4,3434.2 146.4,3426.7 C147.4,3419.2 148.2,3409.3 150.9,3402.8 C153.6,3396.3 161.3,3391.9 162.8,3387.9 C164.3,3383.9 160.8,3383.5 159.8,3379.0 C158.8,3374.5 156.3,3366.1 156.8,3361.1 C157.3,3356.1 160.3,3351.6 162.8,3349.1 C165.3,3346.6 168.8,3347.9 171.8,3346.2 C174.8,3344.5 177.7,3340.9 180.7,3338.7 C183.7,3336.4 185.2,3334.9 189.7,3332.7 C194.2,3330.5 204.1,3328.5 207.6,3325.3 C211.1,3322.1 210.0,3317.3 210.5,3313.3 C211.0,3309.3 209.0,3305.9 210.5,3301.4 C212.0,3296.9 218.0,3289.0 219.5,3286.5"/><path id="scarp" d="M221.4,3282.5 C225.2,3274.3 236.5,3251.9 244.0,3233.3 C251.5,3214.7 261.0,3188.6 266.2,3170.7 C271.4,3152.8 270.7,3140.1 275.2,3125.9 C279.7,3111.7 284.8,3098.4 293.0,3085.7 C301.2,3073.0 311.7,3059.6 324.4,3049.9 C337.1,3040.2 355.6,3033.5 369.0,3027.5 C382.4,3021.5 391.4,3017.8 404.8,3014.1 C418.2,3010.4 430.2,3007.3 449.6,3005.1 C469.0,3002.9 509.3,3001.4 521.2,3000.7"/><clipPath id="clip" clipPathUnits="userSpaceOnUse"><use href="#cp"/></clipPath><clipPath id="clipm" clipPathUnits="userSpaceOnUse"><use href="#cpm"/></clipPath><clipPath id="clipnw" clipPathUnits="userSpaceOnUse"><use href="#cpnw"/></clipPath><clipPath id="cut" clipPathUnits="userSpaceOnUse"><path d="M0,2800 L1358,2800 L1352,3510 L1283,3665 L1283,3900 L0,3900Z"/></clipPath><clipPath id="cutbig" clipPathUnits="userSpaceOnUse"><path d="M0,2800 L1791,2800 L1791,3900 L0,3900Z"/></clipPath><filter id="bl1" x="-20%" y="-20%" width="140%" height="140%"><feGaussianBlur stdDeviation="1"/></filter><filter id="bl2" x="-20%" y="-20%" width="140%" height="140%"><feGaussianBlur stdDeviation="2"/></filter><filter id="bl3" x="-20%" y="-20%" width="140%" height="140%"><feGaussianBlur stdDeviation="3"/></filter><filter id="bl4" x="-20%" y="-20%" width="140%" height="140%"><feGaussianBlur stdDeviation="4"/></filter><filter id="bl5" x="-20%" y="-20%" width="140%" height="140%"><feGaussianBlur stdDeviation="5"/></filter><filter id="bl6" x="-20%" y="-20%" width="140%" height="140%"><feGaussianBlur stdDeviation="6"/></filter><filter id="bl7" x="-20%" y="-20%" width="140%" height="140%"><feGaussianBlur stdDeviation="7"/></filter><filter id="bl8" x="-20%" y="-20%" width="140%" height="140%"><feGaussianBlur stdDeviation="8"/></filter><filter id="bl9" x="-20%" y="-20%" width="140%" height="140%"><feGaussianBlur stdDeviation="9"/></filter><filter id="bl10" x="-20%" y="-20%" width="140%" height="140%"><feGaussianBlur stdDeviation="10"/></filter><filter id="bl11" x="-20%" y="-20%" width="140%" height="140%"><feGaussianBlur stdDeviation="11"/></filter><filter id="bl12" x="-20%" y="-20%" width="140%" height="140%"><feGaussianBlur stdDeviation="12"/></filter><filter id="bl13" x="-20%" y="-20%" width="140%" height="140%"><feGaussianBlur stdDeviation="13"/></filter><filter id="bl14" x="-20%" y="-20%" width="140%" height="140%"><feGaussianBlur stdDeviation="14"/></filter><filter id="bl15" x="-20%" y="-20%" width="140%" height="140%"><feGaussianBlur stdDeviation="15"/></filter><filter id="bl16" x="-20%" y="-20%" width="140%" height="140%"><feGaussianBlur stdDeviation="16"/></filter><filter id="bl17" x="-20%" y="-20%" width="140%" height="140%"><feGaussianBlur stdDeviation="17"/></filter><filter id="bl18" x="-20%" y="-20%" width="140%" height="140%"><feGaussianBlur stdDeviation="18"/></filter><filter id="bl19" x="-20%" y="-20%" width="140%" height="140%"><feGaussianBlur stdDeviation="19"/></filter><filter id="bl20" x="-20%" y="-20%" width="140%" height="140%"><feGaussianBlur stdDeviation="20"/></filter><filter id="bl21" x="-20%" y="-20%" width="140%" height="140%"><feGaussianBlur stdDeviation="21"/></filter><filter id="bl22" x="-20%" y="-20%" width="140%" height="140%"><feGaussianBlur stdDeviation="22"/></filter><filter id="bl23" x="-20%" y="-20%" width="140%" height="140%"><feGaussianBlur stdDeviation="23"/></filter><filter id="bl24" x="-20%" y="-20%" width="140%" height="140%"><feGaussianBlur stdDeviation="24"/></filter><filter id="bl25" x="-20%" y="-20%" width="140%" height="140%"><feGaussianBlur stdDeviation="25"/></filter><filter id="bl26" x="-20%" y="-20%" width="140%" height="140%"><feGaussianBlur stdDeviation="26"/></filter><filter id="bl27" x="-20%" y="-20%" width="140%" height="140%"><feGaussianBlur stdDeviation="27"/></filter><filter id="bl28" x="-20%" y="-20%" width="140%" height="140%"><feGaussianBlur stdDeviation="28"/></filter><filter id="bl29" x="-20%" y="-20%" width="140%" height="140%"><feGaussianBlur stdDeviation="29"/></filter><filter id="bl30" x="-20%" y="-20%" width="140%" height="140%"><feGaussianBlur stdDeviation="30"/></filter><filter id="bl31" x="-20%" y="-20%" width="140%" height="140%"><feGaussianBlur stdDeviation="31"/></filter><filter id="bl32" x="-20%" y="-20%" width="140%" height="140%"><feGaussianBlur stdDeviation="32"/></filter><filter id="bl33" x="-20%" y="-20%" width="140%" height="140%"><feGaussianBlur stdDeviation="33"/></filter><filter id="bl34" x="-20%" y="-20%" width="140%" height="140%"><feGaussianBlur stdDeviation="34"/></filter><filter id="bl35" x="-20%" y="-20%" width="140%" height="140%"><feGaussianBlur stdDeviation="35"/></filter><filter id="bl36" x="-20%" y="-20%" width="140%" height="140%"><feGaussianBlur stdDeviation="36"/></filter><filter id="bl37" x="-20%" y="-20%" width="140%" height="140%"><feGaussianBlur stdDeviation="37"/></filter><filter id="bl38" x="-20%" y="-20%" width="140%" height="140%"><feGaussianBlur stdDeviation="38"/></filter><filter id="bl39" x="-20%" y="-20%" width="140%" height="140%"><feGaussianBlur stdDeviation="39"/></filter><filter id="bl40" x="-20%" y="-20%" width="140%" height="140%"><feGaussianBlur stdDeviation="40"/></filter><filter id="n1996" filterUnits="userSpaceOnUse" x="-300" y="2200" width="2700" height="2200" color-interpolation-filters="sRGB"><feTurbulence type="fractalNoise" baseFrequency="0.003 0.006" numOctaves="2" seed="7"/><feDiffuseLighting surfaceScale="10" diffuseConstant="0.97" lighting-color="#fff"><feDistantLight azimuth="20" elevation="45"/></feDiffuseLighting><feComponentTransfer><feFuncR type="linear" slope="1.0" intercept="0.0"/><feFuncG type="linear" slope="1.0" intercept="0.0"/><feFuncB type="linear" slope="1.0" intercept="0.0"/></feComponentTransfer></filter><filter id="n2010" filterUnits="userSpaceOnUse" x="-300" y="2200" width="2700" height="2200" color-interpolation-filters="sRGB"><feTurbulence type="fractalNoise" baseFrequency="0.035 0.07" numOctaves="4" seed="3"/><feDiffuseLighting surfaceScale="4.5" diffuseConstant="1.04" lighting-color="#fff"><feDistantLight azimuth="20" elevation="45"/></feDiffuseLighting><feComponentTransfer><feFuncR type="linear" slope="1.0" intercept="0.0"/><feFuncG type="linear" slope="1.0" intercept="0.0"/><feFuncB type="linear" slope="1.0" intercept="0.0"/></feComponentTransfer></filter><filter id="n2017" filterUnits="userSpaceOnUse" x="-300" y="2200" width="2700" height="2200" color-interpolation-filters="sRGB"><feTurbulence type="fractalNoise" baseFrequency="0.045 0.08" numOctaves="4" seed="5"/><feDiffuseLighting surfaceScale="6" diffuseConstant="0.82" lighting-color="#fff"><feDistantLight azimuth="20" elevation="45"/></feDiffuseLighting><feComponentTransfer><feFuncR type="linear" slope="1.0" intercept="0.0"/><feFuncG type="linear" slope="1.0" intercept="0.0"/><feFuncB type="linear" slope="1.0" intercept="0.0"/></feComponentTransfer></filter><filter id="n2018" filterUnits="userSpaceOnUse" x="-300" y="2200" width="2700" height="2200" color-interpolation-filters="sRGB"><feTurbulence type="fractalNoise" baseFrequency="0.045 0.08" numOctaves="4" seed="9"/><feDiffuseLighting surfaceScale="6" diffuseConstant="0.74" lighting-color="#fff"><feDistantLight azimuth="20" elevation="45"/></feDiffuseLighting><feComponentTransfer><feFuncR type="linear" slope="1.0" intercept="0.0"/><feFuncG type="linear" slope="1.0" intercept="0.0"/><feFuncB type="linear" slope="1.0" intercept="0.0"/></feComponentTransfer></filter><filter id="nnw" filterUnits="userSpaceOnUse" x="-300" y="2200" width="2700" height="2200" color-interpolation-filters="sRGB"><feTurbulence type="fractalNoise" baseFrequency="0.012 0.03" numOctaves="3" seed="11"/><feDiffuseLighting surfaceScale="5" diffuseConstant="1.02" lighting-color="#fff"><feDistantLight azimuth="20" elevation="45"/></feDiffuseLighting><feComponentTransfer><feFuncR type="linear" slope="1.0" intercept="0.0"/><feFuncG type="linear" slope="1.0" intercept="0.0"/><feFuncB type="linear" slope="1.0" intercept="0.0"/></feComponentTransfer></filter></defs><rect width="2068" height="3974" fill="#fff"/><g clip-path="url(#cutbig)"><g clip-path="url(#clip)"><rect x="100" y="2900" width="1850" height="850" fill="#bde6a9"/><g filter="url(#bl30)"><path d="M130.0,2900.0 L560.0,2900.0 L700.0,2930.0 L720.0,3020.0 L680.0,3150.0 L600.0,3230.0 L500.0,3300.0 L420.0,3360.0 L330.0,3360.0 L250.0,3300.0 L130.0,3250.0Z" fill="#fdc177" opacity="1.00"/><ellipse cx="540" cy="3340" rx="170" ry="100" transform="rotate(0 540 3340)" fill="#f0ecaa" opacity="1.00"/><ellipse cx="640" cy="3040" rx="60" ry="45" transform="rotate(0 640 3040)" fill="#f3eaa8" opacity="1.00"/><ellipse cx="740" cy="3200" rx="140" ry="120" transform="rotate(0 740 3200)" fill="#b0e1a6" opacity="1.00"/><path d="M696.0,3300.0 L900.0,3260.0 L1154.0,3380.0 L1154.0,3503.0 L696.0,3503.0Z" fill="#69c7a7" opacity="1.00"/><path d="M330.0,3545.0 L516.0,3480.0 L800.0,3440.0 L1154.0,3460.0 L1200.0,3560.0 L1000.0,3620.0 L700.0,3640.0 L516.0,3615.0Z" fill="#3db3ac" opacity="1.00"/><ellipse cx="330" cy="3560" rx="160" ry="80" transform="rotate(0 330 3560)" fill="#c9eaad" opacity="1.00"/><ellipse cx="1000" cy="3660" rx="180" ry="40" transform="rotate(0 1000 3660)" fill="#87d2a4" opacity="1.00"/></g><g filter="url(#bl10)"><path d="M200.0,3040.0 L270.0,2990.0 L380.0,2980.0 L500.0,3000.0 L560.0,3050.0 L540.0,3140.0 L470.0,3190.0 L420.0,3240.0 L380.0,3290.0 L330.0,3280.0 L290.0,3220.0 L226.0,3180.0 L205.0,3110.0Z" fill="#ff6b3c" opacity="1.00"/><path d="M215.0,3080.0 L245.0,3040.0 L300.0,3020.0 L370.0,3030.0 L420.0,3060.0 L447.0,3110.0 L430.0,3160.0 L400.0,3200.0 L360.0,3230.0 L320.0,3235.0 L290.0,3200.0 L255.0,3170.0 L225.0,3140.0Z" fill="#ff1414" opacity="1.00"/><ellipse cx="205" cy="3170" rx="14" ry="150" transform="rotate(0 205 3170)" fill="#fee4a0" opacity="1.00"/><ellipse cx="258" cy="2985" rx="30" ry="20" transform="rotate(0 258 2985)" fill="#feda94" opacity="1.00"/><ellipse cx="600" cy="3040" rx="40" ry="20" transform="rotate(0 600 3040)" fill="#fdab62" opacity="1.00"/><ellipse cx="197" cy="3412" rx="49" ry="55" transform="rotate(0 197 3412)" fill="#fdb266" opacity="1.00"/><ellipse cx="690" cy="3070" rx="40" ry="30" transform="rotate(0 690 3070)" fill="#ededac" opacity="1.00"/><ellipse cx="900" cy="3540" rx="180" ry="55" transform="rotate(5 900 3540)" fill="#178dba" opacity="1.00"/><ellipse cx="1000" cy="3520" rx="90" ry="40" transform="rotate(10 1000 3520)" fill="#0c82be" opacity="1.00"/><ellipse cx="720" cy="3540" rx="150" ry="28" transform="rotate(-5 720 3540)" fill="#2298b6" opacity="1.00"/><ellipse cx="480" cy="3540" rx="90" ry="22" transform="rotate(-8 480 3540)" fill="#42b8aa" opacity="1.00"/><ellipse cx="1064" cy="3500" rx="80" ry="12" transform="rotate(38 1064 3500)" fill="#bde6a9" opacity="1.00"/><ellipse cx="1300" cy="3568" rx="118" ry="17" transform="rotate(0 1300 3568)" fill="#2298b6" opacity="1.00"/><ellipse cx="1350" cy="3530" rx="200" ry="15" transform="rotate(0 1350 3530)" fill="#73caa6" opacity="0.80"/><ellipse cx="560" cy="3630" rx="45" ry="25" transform="rotate(0 560 3630)" fill="#56bfa8" opacity="1.00"/><path d="M230.0,3440.0 L500.0,3495.0 L740.0,3525.0 L740.0,3540.0 L500.0,3515.0 L230.0,3460.0Z" fill="#90d6a4" opacity="0.80"/><ellipse cx="1500" cy="3590" rx="80" ry="14" transform="rotate(0 1500 3590)" fill="#cfecaf" opacity="1.00"/><ellipse cx="1588" cy="3596" rx="20" ry="12" transform="rotate(0 1588 3596)" fill="#2ca2b2" opacity="1.00"/><ellipse cx="1715" cy="3510" rx="25" ry="80" transform="rotate(25 1715 3510)" fill="#73caa6" opacity="1.00"/><ellipse cx="1765" cy="3540" rx="18" ry="70" transform="rotate(0 1765 3540)" fill="#cfecaf" opacity="1.00"/></g></g></g><g transform="translate(61.80 -1204.15) scale(0.5)"><g clip-path="url(#clip)"><g transform="rotate(-35 1000 3300)"><rect x="-300" y="2200" width="2700" height="2200" filter="url(#n1996)"/></g><g filter="url(#bl25)"><ellipse cx="300" cy="3090" rx="140" ry="120" transform="rotate(0 300 3090)" fill="#c4c4c4" opacity="0.60"/><ellipse cx="900" cy="3320" rx="160" ry="90" transform="rotate(0 900 3320)" fill="#b8b8b8" opacity="0.40"/><path d="M160.0,3380.0 L300.0,3440.0 L520.0,3560.0 L560.0,3650.0 L300.0,3660.0 L150.0,3540.0Z" fill="#6a6a6a" opacity="0.35"/><path d="M415.0,3200.0 L500.0,3185.0 L564.0,3200.0 L564.0,3296.0 L450.0,3300.0 L400.0,3260.0Z" fill="#707070" opacity="0.45"/><ellipse cx="517" cy="3210" rx="55" ry="40" transform="rotate(0 517 3210)" fill="#555" opacity="0.45"/></g><g filter="url(#bl7)"><path d="M544.0,3198.0 C553.3,3193.7 585.2,3179.0 600.0,3172.0 C614.8,3165.0 616.7,3164.3 633.0,3156.0 C649.3,3147.7 676.2,3129.7 698.0,3122.0 C719.8,3114.3 744.7,3114.8 764.0,3110.0 C783.3,3105.2 803.0,3098.5 814.0,3093.0 C825.0,3087.5 827.3,3079.7 830.0,3077.0" fill="none" stroke="#000" stroke-width="20" stroke-linecap="round" stroke-linejoin="round" opacity="0.90"/><path d="M474.0,3232.0 C480.0,3229.2 498.3,3220.7 510.0,3215.0 C521.7,3209.3 538.3,3200.8 544.0,3198.0" fill="none" stroke="#333" stroke-width="12" stroke-linecap="round" stroke-linejoin="round" opacity="0.45"/><path d="M660.0,3086.0 C663.7,3078.3 678.3,3047.7 682.0,3040.0" fill="none" stroke="#222" stroke-width="10" stroke-linecap="round" stroke-linejoin="round" opacity="0.70"/><ellipse cx="712" cy="3072" rx="48" ry="22" transform="rotate(-20 712 3072)" fill="#cfcfcf" opacity="0.55"/><path d="M216.0,3342.0 C221.7,3345.3 238.0,3354.7 250.0,3362.0 C262.0,3369.3 269.3,3374.7 288.0,3386.0 C306.7,3397.3 338.3,3417.3 362.0,3430.0 C385.7,3442.7 408.8,3452.0 430.0,3462.0 C451.2,3472.0 471.7,3484.2 489.0,3490.0 C506.3,3495.8 521.5,3498.2 534.0,3497.0 C546.5,3495.8 559.0,3485.3 564.0,3483.0" fill="none" stroke="#333" stroke-width="10" stroke-linecap="round" stroke-linejoin="round" opacity="0.75"/><path d="M200.0,3400.0 C202.5,3413.3 210.8,3456.7 215.0,3480.0 C219.2,3503.3 223.3,3530.0 225.0,3540.0" fill="none" stroke="#5a5a5a" stroke-width="10" stroke-linecap="round" stroke-linejoin="round" opacity="0.50"/><path d="M260.0,3420.0 C263.3,3433.3 275.0,3476.7 280.0,3500.0 C285.0,3523.3 288.3,3550.0 290.0,3560.0" fill="none" stroke="#5a5a5a" stroke-width="10" stroke-linecap="round" stroke-linejoin="round" opacity="0.50"/><path d="M560.0,3640.0 L600.0,3585.0 L700.0,3550.0 L800.0,3550.0 L900.0,3560.0 L1100.0,3565.0 L1250.0,3562.0 L1330.0,3570.0 L1500.0,3560.0 L1650.0,3565.0 L1790.0,3590.0 L1790.0,3650.0 L1500.0,3620.0 L1250.0,3690.0 L1000.0,3710.0 L800.0,3690.0 L620.0,3670.0Z" fill="#d6d6d6" opacity="0.85"/><path d="M600.0,3600.0 L680.0,3560.0 L760.0,3560.0 L720.0,3620.0 L640.0,3650.0Z" fill="#f4f4f4" opacity="0.80"/><path d="M1100.0,3525.0 C1115.3,3526.7 1167.0,3531.2 1192.0,3535.0 C1217.0,3538.8 1229.0,3544.5 1250.0,3548.0 C1271.0,3551.5 1306.7,3554.7 1318.0,3556.0" fill="none" stroke="#111" stroke-width="14" stroke-linecap="round" stroke-linejoin="round" opacity="0.80"/><path d="M1320.0,3532.0 C1333.3,3531.7 1370.0,3529.5 1400.0,3530.0 C1430.0,3530.5 1473.3,3532.5 1500.0,3535.0 C1526.7,3537.5 1550.0,3543.3 1560.0,3545.0" fill="none" stroke="#333" stroke-width="9" stroke-linecap="round" stroke-linejoin="round" opacity="0.55"/><path d="M876.0,3511.0 C881.7,3510.0 896.7,3506.8 910.0,3505.0 C923.3,3503.2 948.3,3500.8 956.0,3500.0" fill="none" stroke="#333" stroke-width="8" stroke-linecap="round" stroke-linejoin="round" opacity="0.60"/><ellipse cx="994" cy="3312" rx="18" ry="30" transform="rotate(20 994 3312)" fill="#f0f0f0" opacity="0.80"/><path d="M1670.0,3560.0 L1700.0,3500.0 L1760.0,3440.0 L1840.0,3370.0 L1895.0,3305.0 L1880.0,3360.0 L1850.0,3420.0 L1810.0,3480.0 L1795.0,3540.0 L1790.0,3630.0 L1740.0,3610.0 L1690.0,3590.0Z" fill="#f2f2f2" opacity="0.90"/><path d="M1690.0,3520.0 C1696.7,3511.7 1715.0,3485.0 1730.0,3470.0 C1745.0,3455.0 1761.7,3445.0 1780.0,3430.0 C1798.3,3415.0 1821.7,3399.2 1840.0,3380.0 C1858.3,3360.8 1881.7,3325.8 1890.0,3315.0" fill="none" stroke="#2a2a2a" stroke-width="9" stroke-linecap="round" stroke-linejoin="round" opacity="0.55"/></g></g></g><g transform="translate(61.80 -486.35) scale(0.5)"><g clip-path="url(#clipnw)"><g filter="url(#bl6)"><g transform="rotate(-35 1000 3300)"><rect x="-300" y="2200" width="2700" height="2200" filter="url(#nnw)"/></g></g><g filter="url(#bl4)"><path d="M206.0,3122.0 C211.0,3110.0 226.0,3074.8 236.0,3050.0 C246.0,3025.2 261.0,2985.8 266.0,2973.0" fill="none" stroke="#5a5a5a" stroke-width="12" stroke-linecap="round" stroke-linejoin="round" opacity="0.70"/><path d="M236.0,3152.0 C241.0,3138.3 256.0,3097.3 266.0,3070.0 C276.0,3042.7 291.0,3001.7 296.0,2988.0" fill="none" stroke="#5a5a5a" stroke-width="12" stroke-linecap="round" stroke-linejoin="round" opacity="0.70"/><path d="M232.0,3230.0 C235.3,3216.7 244.0,3175.0 252.0,3150.0 C260.0,3125.0 268.3,3099.7 280.0,3080.0 C291.7,3060.3 315.0,3040.0 322.0,3032.0" fill="none" stroke="#2a2a2a" stroke-width="14" stroke-linecap="round" stroke-linejoin="round" opacity="0.60"/></g></g><g clip-path="url(#clipm)"><g transform="rotate(-35 1000 3300)"><rect x="-300" y="2200" width="2700" height="2200" filter="url(#n2010)"/></g><g filter="url(#bl14)"><path d="M288.0,3035.0 L534.0,3008.0 L534.0,3060.0 L415.0,3090.0 L340.0,3160.0 L288.0,3230.0 L262.0,3210.0Z" fill="#1a1a1a" opacity="0.70"/><path d="M564.0,3190.0 L640.0,3150.0 L760.0,3100.0 L825.0,3075.0 L840.0,3110.0 L760.0,3150.0 L640.0,3210.0 L580.0,3220.0Z" fill="#5a5a5a" opacity="0.45"/><path d="M340.0,3180.0 L564.0,3180.0 L564.0,3300.0 L340.0,3310.0Z" fill="#6a6a6a" opacity="0.25"/><path d="M150.0,3330.0 L300.0,3340.0 L320.0,3560.0 L260.0,3600.0 L160.0,3520.0Z" fill="#707070" opacity="0.30"/><ellipse cx="620" cy="3420" rx="180" ry="110" transform="rotate(-20 620 3420)" fill="#e8e8e8" opacity="0.35"/></g><g filter="url(#bl4)"><path d="M240.0,3260.0 C243.7,3250.0 254.5,3220.0 262.0,3200.0 C269.5,3180.0 278.7,3156.7 285.0,3140.0 C291.3,3123.3 292.5,3113.3 300.0,3100.0 C307.5,3086.7 318.3,3070.0 330.0,3060.0 C341.7,3050.0 355.0,3045.0 370.0,3040.0 C385.0,3035.0 395.0,3033.3 420.0,3030.0 C445.0,3026.7 503.3,3021.7 520.0,3020.0" fill="none" stroke="#111" stroke-width="8" stroke-linecap="round" stroke-linejoin="round" opacity="0.80"/></g><g filter="url(#bl6)"><use href="#cp" fill="none" stroke="#1a1a1a" stroke-width="20" opacity="0.30"/></g></g></g><g transform="translate(61.80 191.45) scale(0.5)"><g clip-path="url(#cut)"><g clip-path="url(#clip)"><g transform="rotate(-35 1000 3300)"><rect x="-300" y="2200" width="2700" height="2200" filter="url(#n2017)"/></g><g filter="url(#bl12)"><path d="M420.0,3050.0 L600.0,3060.0 L700.0,3200.0 L640.0,3260.0 L500.0,3250.0Z" fill="#4a4a4a" opacity="0.25"/><path d="M160.0,3420.0 L260.0,3400.0 L300.0,3520.0 L200.0,3560.0 L150.0,3500.0Z" fill="#cfcfcf" opacity="0.35"/></g><g filter="url(#bl5)"><path d="M310.0,3236.0 C320.0,3230.8 350.5,3214.7 370.0,3205.0 C389.5,3195.3 417.5,3182.5 427.0,3178.0" fill="none" stroke="#f0f0f0" stroke-width="16" stroke-linecap="round" stroke-linejoin="round" opacity="0.60"/><path d="M373.0,3285.0 C380.8,3276.2 403.5,3249.8 420.0,3232.0 C436.5,3214.2 463.3,3187.0 472.0,3178.0" fill="none" stroke="#f4f4f4" stroke-width="18" stroke-linecap="round" stroke-linejoin="round" opacity="0.70"/><path d="M624.0,3205.0 C636.7,3195.8 674.7,3166.3 700.0,3150.0 C725.3,3133.7 755.2,3117.7 776.0,3107.0 C796.8,3096.3 816.8,3089.5 825.0,3086.0" fill="none" stroke="#262626" stroke-width="20" stroke-linecap="round" stroke-linejoin="round" opacity="0.75"/><path d="M452.0,3534.0 C476.8,3529.0 551.3,3514.0 601.0,3504.0 C650.7,3494.0 694.0,3485.2 750.0,3474.0 C806.0,3462.8 905.8,3443.2 937.0,3437.0" fill="none" stroke="#262626" stroke-width="16" stroke-linecap="round" stroke-linejoin="round" opacity="0.70"/><path d="M862.0,3571.0 C874.5,3558.7 912.2,3528.0 937.0,3497.0 C961.8,3466.0 998.7,3403.7 1011.0,3385.0" fill="none" stroke="#e0e0e0" stroke-width="10" stroke-linecap="round" stroke-linejoin="round" opacity="0.60"/><ellipse cx="660" cy="3280" rx="40" ry="30" transform="rotate(0 660 3280)" fill="#262626" opacity="0.50"/></g><g filter="url(#bl6)"><use href="#cp" fill="none" stroke="#1a1a1a" stroke-width="40" opacity="0.50"/></g></g></g></g><g transform="translate(61.80 908.95) scale(0.5)"><g clip-path="url(#clip)"><g transform="rotate(-35 1000 3300)"><rect x="-300" y="2200" width="2700" height="2200" filter="url(#n2018)"/></g><g filter="url(#bl5)"><path d="M310.0,3236.0 C320.0,3230.8 350.5,3214.7 370.0,3205.0 C389.5,3195.3 417.5,3182.5 427.0,3178.0" fill="none" stroke="#f0f0f0" stroke-width="16" stroke-linecap="round" stroke-linejoin="round" opacity="0.55"/><path d="M373.0,3285.0 C380.8,3276.2 403.5,3249.8 420.0,3232.0 C436.5,3214.2 463.3,3187.0 472.0,3178.0" fill="none" stroke="#f4f4f4" stroke-width="18" stroke-linecap="round" stroke-linejoin="round" opacity="0.65"/><path d="M624.0,3205.0 C636.7,3195.8 674.7,3166.3 700.0,3150.0 C725.3,3133.7 755.2,3117.7 776.0,3107.0 C796.8,3096.3 816.8,3089.5 825.0,3086.0" fill="none" stroke="#262626" stroke-width="18" stroke-linecap="round" stroke-linejoin="round" opacity="0.65"/><path d="M452.0,3534.0 C476.8,3529.0 551.3,3514.0 601.0,3504.0 C650.7,3494.0 694.0,3485.2 750.0,3474.0 C806.0,3462.8 905.8,3443.2 937.0,3437.0" fill="none" stroke="#262626" stroke-width="14" stroke-linecap="round" stroke-linejoin="round" opacity="0.60"/><path d="M862.0,3571.0 C874.5,3558.7 912.2,3528.0 937.0,3497.0 C961.8,3466.0 998.7,3403.7 1011.0,3385.0" fill="none" stroke="#dcdcdc" stroke-width="10" stroke-linecap="round" stroke-linejoin="round" opacity="0.60"/><path d="M1730.0,3470.0 L1790.0,3420.0 L1800.0,3520.0 L1790.0,3620.0 L1740.0,3610.0 L1720.0,3560.0Z" fill="#d8d8d8" opacity="0.90"/></g><g filter="url(#bl6)"><use href="#cp" fill="none" stroke="#1a1a1a" stroke-width="36" opacity="0.45"/></g></g></g><g transform="translate(987.20 -486.35) scale(0.5)"><g clip-path="url(#clipnw)"><rect x="100" y="2900" width="1850" height="850" fill="#bde6a9"/><g filter="url(#bl10)"><ellipse cx="260" cy="3150" rx="30" ry="60" transform="rotate(30 260 3150)" fill="#9ad9a3" opacity="1.00"/><ellipse cx="330" cy="3060" rx="25" ry="40" transform="rotate(30 330 3060)" fill="#a4dda2" opacity="1.00"/><ellipse cx="400" cy="3000" rx="30" ry="15" transform="rotate(0 400 3000)" fill="#f3eaa8" opacity="1.00"/></g></g><g clip-path="url(#clipm)"><rect x="100" y="2900" width="1850" height="850" fill="#b0e1a6"/><g filter="url(#bl30)"><path d="M200.0,2950.0 L720.0,2950.0 L720.0,3120.0 L600.0,3280.0 L480.0,3390.0 L300.0,3380.0 L200.0,3300.0Z" fill="#fdbc72" opacity="1.00"/><ellipse cx="520" cy="3340" rx="130" ry="90" transform="rotate(0 520 3340)" fill="#f0ecaa" opacity="1.00"/><ellipse cx="760" cy="3180" rx="140" ry="120" transform="rotate(0 760 3180)" fill="#a4dda2" opacity="1.00"/><path d="M700.0,3280.0 L950.0,3300.0 L1150.0,3420.0 L1409.0,3500.0 L1409.0,3640.0 L449.0,3660.0 L449.0,3480.0Z" fill="#69c7a7" opacity="1.00"/><path d="M560.0,3470.0 L800.0,3440.0 L1000.0,3450.0 L1200.0,3500.0 L1409.0,3530.0 L1409.0,3600.0 L1150.0,3620.0 L900.0,3630.0 L720.0,3650.0 L500.0,3650.0 L480.0,3560.0Z" fill="#2ca2b2" opacity="1.00"/><ellipse cx="300" cy="3560" rx="110" ry="60" transform="rotate(0 300 3560)" fill="#90d6a4" opacity="1.00"/></g><g filter="url(#bl12)"><path d="M280.0,3045.0 L420.0,3010.0 L620.0,3020.0 L660.0,3090.0 L580.0,3200.0 L480.0,3310.0 L400.0,3370.0 L320.0,3330.0 L270.0,3230.0 L262.0,3140.0Z" fill="#ff7944" opacity="1.00"/><path d="M290.0,3100.0 L330.0,3070.0 L400.0,3060.0 L520.0,3065.0 L540.0,3110.0 L510.0,3180.0 L450.0,3280.0 L390.0,3330.0 L335.0,3290.0 L295.0,3220.0 L285.0,3150.0Z" fill="#ff1414" opacity="1.00"/><path d="M240.0,3270.0 L262.0,3210.0 L282.0,3140.0 L300.0,3095.0 L330.0,3062.0 L372.0,3042.0 L410.0,3030.0 L455.0,3022.0 L520.0,3018.0" fill="none" stroke="#fdc67d" stroke-width="34" stroke-linecap="round" stroke-linejoin="round" opacity="1.00"/><ellipse cx="195" cy="3415" rx="40" ry="55" transform="rotate(0 195 3415)" fill="#fda45e" opacity="1.00"/><ellipse cx="1000" cy="3545" rx="200" ry="50" transform="rotate(0 1000 3545)" fill="#0c82be" opacity="1.00"/><ellipse cx="780" cy="3560" rx="90" ry="35" transform="rotate(0 780 3560)" fill="#178dba" opacity="1.00"/><ellipse cx="1500" cy="3560" rx="120" ry="25" transform="rotate(0 1500 3560)" fill="#2ca2b2" opacity="1.00"/><ellipse cx="1780" cy="3440" rx="45" ry="120" transform="rotate(35 1780 3440)" fill="#42b8aa" opacity="1.00"/><ellipse cx="1890" cy="3320" rx="14" ry="35" transform="rotate(30 1890 3320)" fill="#178dba" opacity="1.00"/><ellipse cx="1100" cy="3670" rx="200" ry="30" transform="rotate(0 1100 3670)" fill="#56bfa8" opacity="1.00"/><ellipse cx="520" cy="3620" rx="60" ry="30" transform="rotate(0 520 3620)" fill="#2298b6" opacity="1.00"/><ellipse cx="880" cy="3380" rx="60" ry="40" transform="rotate(0 880 3380)" fill="#42b8aa" opacity="1.00"/></g></g></g><g transform="translate(987.20 191.45) scale(0.5)"><g clip-path="url(#cut)"><g clip-path="url(#clip)"><rect x="100" y="2900" width="1850" height="850" fill="#f0ecaa"/><g filter="url(#bl25)"><ellipse cx="650" cy="3200" rx="220" ry="170" transform="rotate(0 650 3200)" fill="#e5f2b2" opacity="1.00"/><ellipse cx="440" cy="3260" rx="170" ry="170" transform="rotate(0 440 3260)" fill="#9ad9a3" opacity="1.00"/><ellipse cx="520" cy="3420" rx="120" ry="90" transform="rotate(0 520 3420)" fill="#90d6a4" opacity="1.00"/><ellipse cx="350" cy="3610" rx="260" ry="70" transform="rotate(0 350 3610)" fill="#fee4a0" opacity="1.00"/><ellipse cx="1100" cy="3560" rx="150" ry="70" transform="rotate(20 1100 3560)" fill="#fbe6a2" opacity="1.00"/></g><g filter="url(#bl8)"><path d="M190.0,2975.0 L270.0,2960.0 L330.0,2975.0 L320.0,3060.0 L290.0,3150.0 L270.0,3215.0 L230.0,3210.0 L205.0,3120.0 L190.0,3050.0Z" fill="#ff1414" opacity="1.00"/><path d="M330.0,2975.0 L380.0,2990.0 L350.0,3080.0 L300.0,3200.0 L270.0,3230.0 L290.0,3150.0 L320.0,3060.0Z" fill="#fe9655" opacity="1.00"/><ellipse cx="380" cy="3170" rx="40" ry="30" transform="rotate(0 380 3170)" fill="#56bfa8" opacity="1.00"/><ellipse cx="470" cy="3040" rx="25" ry="20" transform="rotate(0 470 3040)" fill="#7dcea5" opacity="1.00"/><ellipse cx="420" cy="3330" rx="50" ry="40" transform="rotate(0 420 3330)" fill="#69c7a7" opacity="1.00"/><path d="M1030.0,3500.0 L1080.0,3540.0 L1130.0,3590.0 L1170.0,3620.0" fill="none" stroke="#fecb83" stroke-width="10" stroke-linecap="round" stroke-linejoin="round" opacity="0.90"/><path d="M200.0,3560.0 L320.0,3600.0 L450.0,3620.0" fill="none" stroke="#fed089" stroke-width="8" stroke-linecap="round" stroke-linejoin="round" opacity="0.70"/><ellipse cx="1150" cy="3610" rx="40" ry="20" transform="rotate(30 1150 3610)" fill="#fdbc72" opacity="1.00"/></g></g></g></g><g transform="translate(987.20 908.95) scale(0.5)"><g clip-path="url(#cut)"><g clip-path="url(#clip)"><rect x="100" y="2900" width="1850" height="850" fill="#d6efb0"/></g></g></g><g stroke="#000" stroke-opacity="0.2" stroke-width="3"><line x1="113.5" y1="239.4" x2="1036.5" y2="239.4"/><line x1="113.5" y1="579.0" x2="1036.5" y2="579.0"/><line x1="113.5" y1="957.2" x2="1036.5" y2="957.2"/><line x1="113.5" y1="1296.8" x2="1036.5" y2="1296.8"/><line x1="1036.5" y1="957.2" x2="1960.8" y2="957.2"/><line x1="1036.5" y1="1296.8" x2="1960.8" y2="1296.8"/><line x1="113.5" y1="1635.0" x2="1036.5" y2="1635.0"/><line x1="113.5" y1="1974.6" x2="1036.5" y2="1974.6"/><line x1="1036.5" y1="1635.0" x2="1960.8" y2="1635.0"/><line x1="1036.5" y1="1974.6" x2="1960.8" y2="1974.6"/><line x1="113.5" y1="2352.5" x2="1036.5" y2="2352.5"/><line x1="113.5" y1="2692.1" x2="1036.5" y2="2692.1"/><line x1="1036.5" y1="2352.5" x2="1960.8" y2="2352.5"/><line x1="1036.5" y1="2692.1" x2="1960.8" y2="2692.1"/></g><g stroke="#000" stroke-opacity="0.3" stroke-width="2.4"><line x1="436.8" y1="100.5" x2="436.8" y2="818.4"/><line x1="776.4" y1="100.5" x2="776.4" y2="818.4"/><line x1="436.8" y1="818.4" x2="436.8" y2="1496.0"/><line x1="776.4" y1="818.4" x2="776.4" y2="1496.0"/><line x1="1362.2" y1="818.4" x2="1362.2" y2="1496.0"/><line x1="1701.9" y1="818.4" x2="1701.9" y2="1496.0"/><line x1="436.8" y1="1496.0" x2="436.8" y2="2213.0"/><line x1="776.4" y1="1496.0" x2="776.4" y2="2213.0"/><line x1="1362.2" y1="1496.0" x2="1362.2" y2="2213.0"/><line x1="1701.9" y1="1496.0" x2="1701.9" y2="2213.0"/><line x1="436.8" y1="2213.0" x2="436.8" y2="2922.5"/><line x1="776.4" y1="2213.0" x2="776.4" y2="2922.5"/><line x1="1362.2" y1="2213.0" x2="1362.2" y2="2922.5"/><line x1="1701.9" y1="2213.0" x2="1701.9" y2="2922.5"/></g><g transform="translate(61.80 -1204.15) scale(0.5)"><use href="#cp" fill="none" stroke="#111" stroke-width="9" stroke-linejoin="round"/></g><g transform="translate(61.80 191.45) scale(0.5)"><use href="#cp" fill="none" stroke="#111" stroke-width="9" stroke-linejoin="round"/></g><g transform="translate(61.80 908.95) scale(0.5)"><use href="#cp" fill="none" stroke="#111" stroke-width="9" stroke-linejoin="round"/></g><g transform="translate(987.20 191.45) scale(0.5)"><use href="#cp" fill="none" stroke="#111" stroke-width="9" stroke-linejoin="round"/></g><g transform="translate(987.20 908.95) scale(0.5)"><use href="#cp" fill="none" stroke="#111" stroke-width="9" stroke-linejoin="round"/></g><g transform="translate(61.80 -486.35) scale(0.5)"><use href="#cpo" fill="none" stroke="#111" stroke-width="9" stroke-linejoin="round"/></g><g transform="translate(987.20 -486.35) scale(0.5)"><use href="#cpo" fill="none" stroke="#111" stroke-width="9" stroke-linejoin="round"/></g><g transform="translate(987.20 -486.35) scale(0.5)"><use href="#cpnw" fill="none" stroke="#c2c2c2" stroke-width="7" stroke-linejoin="round"/></g><g transform="translate(987.20 -486.35) scale(0.5)"><path d="M215,3225 C240,3160 270,3090 300,3040 S 340,2975 354,2962" fill="none" stroke="#c8c8c8" stroke-width="5"/></g><g transform="translate(61.80 -486.35) scale(0.5)"><use href="#scarp" fill="none" stroke="#ff1a1a" stroke-width="9"/><path d="M251.9,3230.4 L262.5,3200.2 L281.7,3224.0 Z M280.8,3168.7 L287.2,3137.3 L309.5,3158.1 Z M295.8,3097.7 L317.0,3073.7 L325.9,3102.8 Z M345.9,3048.2 L374.5,3033.8 L371.9,3064.2 Z M411.5,3026.3 L442.9,3019.9 L432.3,3048.6 Z M491.8,3015.1 L523.8,3013.1 L509.4,3040.1 Z" fill="#ff1a1a"/></g><g transform="translate(987.20 -486.35) scale(0.5)"><use href="#scarp" fill="none" stroke="#ff1a1a" stroke-width="4.5"/><path d="M253.5,3225.7 L260.9,3204.9 L276.0,3222.0 Z M281.8,3163.8 L286.2,3142.2 L303.6,3156.9 Z M299.1,3094.0 L313.7,3077.4 L321.4,3098.9 Z M350.4,3045.9 L370.0,3036.1 L369.2,3058.9 Z M416.4,3025.3 L438.0,3020.9 L431.1,3042.7 Z M496.8,3014.8 L518.8,3013.4 L509.0,3034.1 Z" fill="#ff1a1a"/></g><use href="#cp" fill="none" stroke="#111" stroke-width="4.5" stroke-linejoin="round"/><g stroke="#333" stroke-width="2"><line x1="727.0" y1="3566.3" x2="767.0" y2="3566.3"/><line x1="747.0" y1="3546.3" x2="747.0" y2="3586.3"/><line x1="1406.3" y1="3566.3" x2="1446.3" y2="3566.3"/><line x1="1426.3" y1="3546.3" x2="1426.3" y2="3586.3"/></g><g fill="none" stroke="#484848" stroke-width="3.8"><rect x="113.5" y="100.5" width="923.0" height="717.9"/><rect x="113.5" y="818.4" width="923.0" height="677.6"/><rect x="1036.5" y="818.4" width="924.3" height="677.6"/><rect x="113.5" y="1496.0" width="923.0" height="717.0"/><rect x="1036.5" y="1496.0" width="924.3" height="717.0"/><rect x="113.5" y="2213.0" width="923.0" height="709.5"/><rect x="1036.5" y="2213.0" width="924.3" height="709.5"/><rect x="113.5" y="2922.5" width="1847.3" height="910.1"/></g><line x1="1036.5" y1="818.4" x2="1036.5" y2="2922.5" stroke="#111" stroke-width="5.5"/><rect x="27.0" y="29.0" width="2004.5" height="3911.3" fill="none" stroke="#7a7a7a" stroke-width="3"/><g stroke="#444" stroke-width="3"><line x1="435.3" y1="79.5" x2="435.3" y2="100.5"/><line x1="774.9" y1="79.5" x2="774.9" y2="100.5"/><line x1="1360.7" y1="797.4" x2="1360.7" y2="818.4"/><line x1="1700.4" y1="797.4" x2="1700.4" y2="818.4"/><line x1="93" y1="239.4" x2="113.5" y2="239.4"/><line x1="93" y1="579.0" x2="113.5" y2="579.0"/><line x1="93" y1="957.2" x2="113.5" y2="957.2"/><line x1="1960.8" y1="957.2" x2="1980" y2="957.2"/><line x1="93" y1="1296.8" x2="113.5" y2="1296.8"/><line x1="1960.8" y1="1296.8" x2="1980" y2="1296.8"/><line x1="93" y1="1635.0" x2="113.5" y2="1635.0"/><line x1="1960.8" y1="1635.0" x2="1980" y2="1635.0"/><line x1="93" y1="1974.6" x2="113.5" y2="1974.6"/><line x1="1960.8" y1="1974.6" x2="1980" y2="1974.6"/><line x1="93" y1="2352.5" x2="113.5" y2="2352.5"/><line x1="1960.8" y1="2352.5" x2="1980" y2="2352.5"/><line x1="93" y1="2692.1" x2="113.5" y2="2692.1"/><line x1="1960.8" y1="2692.1" x2="1980" y2="2692.1"/><line x1="93" y1="3566.3" x2="113.5" y2="3566.3"/><line x1="1960.8" y1="3566.3" x2="1980" y2="3566.3"/><line x1="747.0" y1="3832.6" x2="747.0" y2="3854"/><line x1="1426.3" y1="3832.6" x2="1426.3" y2="3854"/></g><g font-family="'DejaVu Sans','Liberation Sans',sans-serif"><text transform="translate(373.02 70.76) scale(0.8591 1)" font-size="37.95" fill="#3a3a3a" textLength="144.85" lengthAdjust="spacingAndGlyphs">603000</text><text transform="translate(712.62 70.76) scale(0.8591 1)" font-size="37.95" fill="#3a3a3a" textLength="144.85" lengthAdjust="spacingAndGlyphs">603500</text><text transform="translate(1297.39 787.86) scale(0.8734 1)" font-size="37.95" fill="#3a3a3a" textLength="144.85" lengthAdjust="spacingAndGlyphs">603000</text><text transform="translate(1637.09 787.86) scale(0.8734 1)" font-size="37.95" fill="#3a3a3a" textLength="144.85" lengthAdjust="spacingAndGlyphs">603500</text><text transform="translate(686.80 3890.47) scale(0.8392 1)" font-size="37.55" fill="#3a3a3a" textLength="143.34" lengthAdjust="spacingAndGlyphs">603000</text><text transform="translate(1366.10 3890.47) scale(0.8392 1)" font-size="37.55" fill="#3a3a3a" textLength="143.34" lengthAdjust="spacingAndGlyphs">603500</text><g transform="translate(69.00 239.40) rotate(-90)"><text transform="translate(-73.11 14.44) scale(0.8310 1)" font-size="39.66" fill="#3a3a3a" textLength="176.65" lengthAdjust="spacingAndGlyphs">4285000</text></g><g transform="translate(69.00 579.00) rotate(-90)"><text transform="translate(-73.11 14.44) scale(0.8310 1)" font-size="39.66" fill="#3a3a3a" textLength="176.65" lengthAdjust="spacingAndGlyphs">4284500</text></g><g transform="translate(69.00 957.20) rotate(-90)"><text transform="translate(-73.11 14.44) scale(0.8310 1)" font-size="39.66" fill="#3a3a3a" textLength="176.65" lengthAdjust="spacingAndGlyphs">4285000</text></g><g transform="translate(2004.60 957.20) rotate(90)"><text transform="translate(-73.11 14.44) scale(0.8310 1)" font-size="39.66" fill="#3a3a3a" textLength="176.65" lengthAdjust="spacingAndGlyphs">4285000</text></g><g transform="translate(69.00 1296.80) rotate(-90)"><text transform="translate(-73.11 14.44) scale(0.8310 1)" font-size="39.66" fill="#3a3a3a" textLength="176.65" lengthAdjust="spacingAndGlyphs">4284500</text></g><g transform="translate(2004.60 1296.80) rotate(90)"><text transform="translate(-73.11 14.44) scale(0.8310 1)" font-size="39.66" fill="#3a3a3a" textLength="176.65" lengthAdjust="spacingAndGlyphs">4284500</text></g><g transform="translate(69.00 1635.00) rotate(-90)"><text transform="translate(-73.11 14.44) scale(0.8310 1)" font-size="39.66" fill="#3a3a3a" textLength="176.65" lengthAdjust="spacingAndGlyphs">4285000</text></g><g transform="translate(2004.60 1635.00) rotate(90)"><text transform="translate(-73.11 14.44) scale(0.8310 1)" font-size="39.66" fill="#3a3a3a" textLength="176.65" lengthAdjust="spacingAndGlyphs">4285000</text></g><g transform="translate(69.00 1974.60) rotate(-90)"><text transform="translate(-73.11 14.44) scale(0.8310 1)" font-size="39.66" fill="#3a3a3a" textLength="176.65" lengthAdjust="spacingAndGlyphs">4284500</text></g><g transform="translate(2004.60 1974.60) rotate(90)"><text transform="translate(-73.11 14.44) scale(0.8310 1)" font-size="39.66" fill="#3a3a3a" textLength="176.65" lengthAdjust="spacingAndGlyphs">4284500</text></g><g transform="translate(69.00 2352.50) rotate(-90)"><text transform="translate(-73.11 14.44) scale(0.8310 1)" font-size="39.66" fill="#3a3a3a" textLength="176.65" lengthAdjust="spacingAndGlyphs">4285000</text></g><g transform="translate(2004.60 2352.50) rotate(90)"><text transform="translate(-73.11 14.44) scale(0.8310 1)" font-size="39.66" fill="#3a3a3a" textLength="176.65" lengthAdjust="spacingAndGlyphs">4285000</text></g><g transform="translate(69.00 2692.10) rotate(-90)"><text transform="translate(-73.11 14.44) scale(0.8310 1)" font-size="39.66" fill="#3a3a3a" textLength="176.65" lengthAdjust="spacingAndGlyphs">4284500</text></g><g transform="translate(2004.60 2692.10) rotate(90)"><text transform="translate(-73.11 14.44) scale(0.8310 1)" font-size="39.66" fill="#3a3a3a" textLength="176.65" lengthAdjust="spacingAndGlyphs">4284500</text></g><g transform="translate(69.00 3566.30) rotate(-90)"><text transform="translate(-70.04 13.96) scale(0.8236 1)" font-size="38.34" fill="#3a3a3a" textLength="170.76" lengthAdjust="spacingAndGlyphs">4284500</text></g><g transform="translate(2004.00 3566.30) rotate(90)"><text transform="translate(-70.04 13.96) scale(0.8236 1)" font-size="38.34" fill="#3a3a3a" textLength="170.76" lengthAdjust="spacingAndGlyphs">4284500</text></g><text transform="translate(149.79 185.36) scale(0.8534 1)" font-size="44.95" fill="#1e1e1e" textLength="114.40" lengthAdjust="spacingAndGlyphs">1996</text><text transform="translate(150.83 886.67) scale(0.8491 1)" font-size="44.56" fill="#1e1e1e" textLength="113.39" lengthAdjust="spacingAndGlyphs">2010</text><text transform="translate(151.13 1580.59) scale(0.8844 1)" font-size="42.84" fill="#1e1e1e" textLength="109.02" lengthAdjust="spacingAndGlyphs">2017</text><text transform="translate(151.11 2295.26) scale(0.8488 1)" font-size="44.95" fill="#1e1e1e" textLength="114.40" lengthAdjust="spacingAndGlyphs">2018</text><text transform="translate(1084.39 905.37) scale(0.8623 1)" font-size="44.42" fill="#1e1e1e" textLength="270.38" lengthAdjust="spacingAndGlyphs">1996 - 2010</text><text transform="translate(1083.98 1607.08) scale(0.8797 1)" font-size="43.76" fill="#1e1e1e" textLength="266.36" lengthAdjust="spacingAndGlyphs">2010 - 2017</text><text transform="translate(1083.98 2300.19) scale(0.8890 1)" font-size="43.37" fill="#1e1e1e" textLength="263.95" lengthAdjust="spacingAndGlyphs">2017 - 2018</text><text transform="translate(1084.37 3027.57) scale(0.8690 1)" font-size="44.29" fill="#1e1e1e" textLength="269.58" lengthAdjust="spacingAndGlyphs">1996 - 2018</text><text transform="translate(1334.65 158.87) scale(0.8503 1)" font-size="61.69" fill="#1a1a1a" textLength="260.57" lengthAdjust="spacingAndGlyphs">DoD [m]</text><rect x="1331.3" y="189.0" width="71.6" height="40.6" fill="#ff1414"/><rect x="1331.3" y="229.3" width="71.6" height="42.0" fill="#ff6b3c"/><rect x="1331.3" y="271.0" width="71.6" height="40.7" fill="#fdb266"/><rect x="1331.3" y="311.4" width="71.6" height="41.7" fill="#fee4a0"/><rect x="1331.3" y="352.8" width="71.6" height="41.5" fill="#e2f3b4"/><rect x="1331.3" y="394.0" width="71.6" height="41.4" fill="#a4dda2"/><rect x="1331.3" y="435.1" width="71.6" height="40.6" fill="#42b8aa"/><rect x="1331.3" y="475.4" width="71.6" height="41.7" fill="#0c82be"/><text transform="translate(1417.76 226.85) scale(0.8658 1)" font-size="45.88" fill="#1a1a1a" textLength="74.93" lengthAdjust="spacingAndGlyphs">-40</text><text transform="translate(1417.76 268.27) scale(0.8941 1)" font-size="44.42" fill="#1a1a1a" textLength="72.56" lengthAdjust="spacingAndGlyphs">-30</text><text transform="translate(1417.76 309.67) scale(0.8941 1)" font-size="44.42" fill="#1a1a1a" textLength="72.56" lengthAdjust="spacingAndGlyphs">-20</text><text transform="translate(1417.76 349.99) scale(0.9244 1)" font-size="42.97" fill="#1a1a1a" textLength="70.18" lengthAdjust="spacingAndGlyphs">-10</text><text transform="translate(1416.57 390.87) scale(1.0036 1)" font-size="44.29" fill="#1a1a1a" textLength="28.18" lengthAdjust="spacingAndGlyphs">0</text><text transform="translate(1415.13 431.17) scale(0.8953 1)" font-size="44.42" fill="#1a1a1a" textLength="56.53" lengthAdjust="spacingAndGlyphs">10</text><text transform="translate(1416.68 472.59) scale(0.8957 1)" font-size="42.97" fill="#1a1a1a" textLength="54.68" lengthAdjust="spacingAndGlyphs">20</text><text transform="translate(1416.56 513.99) scale(0.8953 1)" font-size="43.10" fill="#1a1a1a" textLength="54.85" lengthAdjust="spacingAndGlyphs">30</text><text transform="translate(1330.80 564.36) scale(1.1921 1)" font-size="44.95" fill="#1a1a1a" textLength="22.48" lengthAdjust="spacingAndGlyphs">*</text><text transform="translate(1372.57 567.64) scale(0.9765 1)" font-size="46.26" fill="#1a1a1a" textLength="181.80" lengthAdjust="spacingAndGlyphs">No data</text><text transform="translate(1097.07 633.07) scale(1.0006 1)" font-size="44.42" fill="#2a2a2a" textLength="28.26" lengthAdjust="spacingAndGlyphs">0</text><text transform="translate(1414.19 633.07) scale(0.8213 1)" font-size="44.42" fill="#2a2a2a" textLength="84.79" lengthAdjust="spacingAndGlyphs">500</text><text transform="translate(1743.26 633.07) scale(0.8684 1)" font-size="44.42" fill="#2a2a2a" textLength="170.45" lengthAdjust="spacingAndGlyphs">1000 m</text><rect x="1110" y="661" width="342" height="35" fill="#000"/><rect x="1452" y="662.2" width="338" height="32.6" fill="#fff" stroke="#444" stroke-width="2.4"/><text transform="translate(1547.41 3714.57) scale(0.9843 1)" font-size="44.56" fill="#2a2a2a" textLength="28.35" lengthAdjust="spacingAndGlyphs">0</text><text transform="translate(1661.54 3714.57) scale(0.8498 1)" font-size="44.56" fill="#2a2a2a" textLength="85.04" lengthAdjust="spacingAndGlyphs">100</text><text transform="translate(1797.18 3714.57) scale(0.8646 1)" font-size="44.56" fill="#2a2a2a" textLength="142.61" lengthAdjust="spacingAndGlyphs">200 m</text><rect x="1561" y="3744.5" width="137.5" height="31" fill="#000" stroke="#333" stroke-width="2.4"/><rect x="1698.5" y="3744.5" width="136" height="31" fill="#fff" stroke="#444" stroke-width="2.4"/><text transform="translate(849.38 1958.31) scale(0.9558 1)" font-size="57.01" fill="#111" textLength="28.51" lengthAdjust="spacingAndGlyphs" font-weight="bold">*</text></g></svg></body></html>
